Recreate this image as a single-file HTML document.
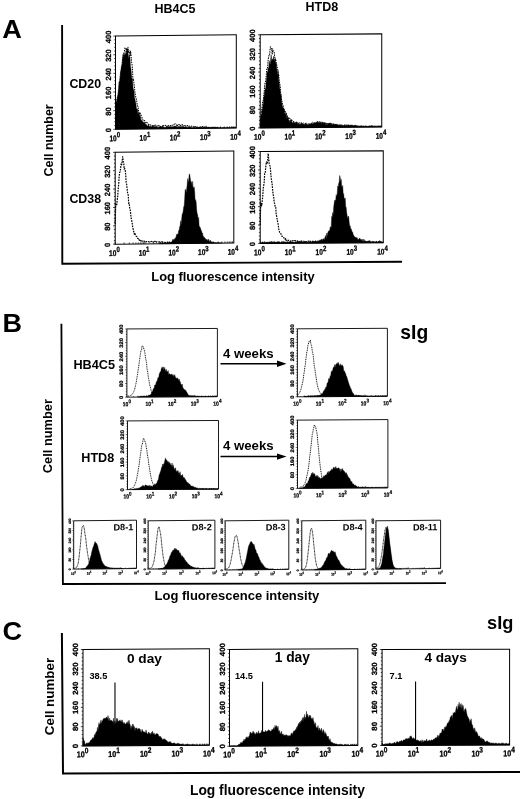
<!DOCTYPE html>
<html><head><meta charset="utf-8"><title>Figure</title>
<style>
html,body{margin:0;padding:0;background:#fff;}
body{width:520px;height:799px;overflow:hidden;font-family:"Liberation Sans",sans-serif;}
svg{display:block;filter:grayscale(1);}
svg text{font-family:"Liberation Sans",sans-serif;}
</style></head><body>
<svg width="520" height="799" viewBox="0 0 520 799" font-family="Liberation Sans, sans-serif" fill="#000">
<rect width="520" height="799" fill="#fff"/>
<text x="2.30" y="38.30" font-size="25" font-weight="bold" text-anchor="start" textLength="19.6" lengthAdjust="spacingAndGlyphs">A</text>
<text x="2.60" y="331.90" font-size="25" font-weight="bold" text-anchor="start" textLength="19.5" lengthAdjust="spacingAndGlyphs">B</text>
<text x="2.40" y="639.50" font-size="25" font-weight="bold" text-anchor="start" textLength="19.6" lengthAdjust="spacingAndGlyphs">C</text>
<path d="M62.1 25L62.3 263.8L402 261.8" fill="none" stroke="#000" stroke-width="1.9"/>
<path d="M61.4 323.8L62.9 584L446 583.2" fill="none" stroke="#000" stroke-width="1.8"/>
<path d="M61.9 633.1L63 773.4L521 771.9" fill="none" stroke="#000" stroke-width="2.0"/>
<text x="154.50" y="12.60" font-size="12.5" font-weight="bold" text-anchor="start" >HB4C5</text>
<text x="305.50" y="11.20" font-size="12.5" font-weight="bold" text-anchor="start" >HTD8</text>
<text x="69.40" y="87.80" font-size="12.4" font-weight="bold" text-anchor="start" >CD20</text>
<text x="69.40" y="202.80" font-size="12.4" font-weight="bold" text-anchor="start" >CD38</text>
<text x="53.40" y="176.50" font-size="12.5" font-weight="bold" text-anchor="start" transform="rotate(-90 53.40 176.50)" >Cell number</text>
<text x="151.30" y="280.60" font-size="12.9" font-weight="bold" text-anchor="start" >Log fluorescence intensity</text>
<g transform="translate(175.90 82.00) skewY(-0.664) translate(-175.90 -82.00)">
<rect x="115.50" y="35.40" width="120.80" height="93.20" fill="none" stroke="#000" stroke-width="1.0"/>
<path d="M115.50 128.60h-2.20M115.50 124.87h-1.30M115.50 121.14h-1.30M115.50 117.42h-1.30M115.50 113.69h-1.30M115.50 109.96h-2.20M115.50 106.23h-1.30M115.50 102.50h-1.30M115.50 98.78h-1.30M115.50 95.05h-1.30M115.50 91.32h-2.20M115.50 87.59h-1.30M115.50 83.86h-1.30M115.50 80.14h-1.30M115.50 76.41h-1.30M115.50 72.68h-2.20M115.50 68.95h-1.30M115.50 65.22h-1.30M115.50 61.50h-1.30M115.50 57.77h-1.30M115.50 54.04h-2.20M115.50 50.31h-1.30M115.50 46.58h-1.30M115.50 42.86h-1.30M115.50 39.13h-1.30M115.50 35.40h-2.20M115.50 128.60v-2.56M124.59 128.60v-1.60M129.91 128.60v-1.60M133.68 128.60v-1.60M136.61 128.60v-1.60M139.00 128.60v-1.60M141.02 128.60v-1.60M142.77 128.60v-1.60M144.32 128.60v-1.60M145.70 128.60v-2.56M154.79 128.60v-1.60M160.11 128.60v-1.60M163.88 128.60v-1.60M166.81 128.60v-1.60M169.20 128.60v-1.60M171.22 128.60v-1.60M172.97 128.60v-1.60M174.52 128.60v-1.60M175.90 128.60v-2.56M184.99 128.60v-1.60M190.31 128.60v-1.60M194.08 128.60v-1.60M197.01 128.60v-1.60M199.40 128.60v-1.60M201.42 128.60v-1.60M203.17 128.60v-1.60M204.72 128.60v-1.60M206.10 128.60v-2.56M215.19 128.60v-1.60M220.51 128.60v-1.60M224.28 128.60v-1.60M227.21 128.60v-1.60M229.60 128.60v-1.60M231.62 128.60v-1.60M233.37 128.60v-1.60M234.92 128.60v-1.60" stroke="#000" stroke-width="0.7" fill="none"/>
<text font-size="7.5" font-weight="bold" stroke="#000" stroke-width="0.26" text-anchor="middle" transform="translate(110.60 129.40) rotate(-90) scale(1.0 1)">0</text>
<text font-size="7.5" font-weight="bold" stroke="#000" stroke-width="0.26" text-anchor="middle" transform="translate(110.60 110.76) rotate(-90) scale(1.0 1)">80</text>
<text font-size="7.5" font-weight="bold" stroke="#000" stroke-width="0.26" text-anchor="middle" transform="translate(110.60 92.12) rotate(-90) scale(1.0 1)">160</text>
<text font-size="7.5" font-weight="bold" stroke="#000" stroke-width="0.26" text-anchor="middle" transform="translate(110.60 73.48) rotate(-90) scale(1.0 1)">240</text>
<text font-size="7.5" font-weight="bold" stroke="#000" stroke-width="0.26" text-anchor="middle" transform="translate(110.60 54.84) rotate(-90) scale(1.0 1)">320</text>
<text font-size="7.5" font-weight="bold" stroke="#000" stroke-width="0.26" text-anchor="middle" transform="translate(110.60 36.20) rotate(-90) scale(1.0 1)">400</text>
<text font-size="8.2" font-weight="bold" stroke="#000" stroke-width="0.29" transform="translate(109.40 140.40) scale(0.8 1)">10<tspan font-size="7.54" dy="-3.85">0</tspan></text>
<text font-size="8.2" font-weight="bold" stroke="#000" stroke-width="0.29" transform="translate(139.60 140.40) scale(0.8 1)">10<tspan font-size="7.54" dy="-3.85">1</tspan></text>
<text font-size="8.2" font-weight="bold" stroke="#000" stroke-width="0.29" transform="translate(169.80 140.40) scale(0.8 1)">10<tspan font-size="7.54" dy="-3.85">2</tspan></text>
<text font-size="8.2" font-weight="bold" stroke="#000" stroke-width="0.29" transform="translate(200.00 140.40) scale(0.8 1)">10<tspan font-size="7.54" dy="-3.85">3</tspan></text>
<text font-size="8.2" font-weight="bold" stroke="#000" stroke-width="0.29" transform="translate(230.20 140.40) scale(0.8 1)">10<tspan font-size="7.54" dy="-3.85">4</tspan></text>
<path d="M115.50 128.60L115.50 104.27L116.00 102.23L116.50 101.03L117.00 99.59L117.50 95.80L118.00 93.56L118.50 87.69L119.00 81.07L119.50 81.52L120.00 78.14L120.50 71.67L121.00 68.28L121.50 65.24L122.00 64.42L122.50 58.61L123.00 53.63L123.50 57.12L124.00 52.54L124.50 55.51L125.00 52.95L125.50 54.54L126.00 49.85L126.50 53.12L127.00 48.65L127.50 49.19L128.00 50.79L128.50 58.75L129.00 54.37L129.50 55.01L130.00 57.67L130.50 66.38L131.00 68.41L131.50 74.59L132.00 78.73L132.50 78.59L133.00 86.95L133.50 89.10L134.00 90.88L134.50 97.10L135.00 99.13L135.50 101.33L136.00 103.90L136.50 108.44L137.00 108.56L137.50 108.51L138.00 114.01L138.50 111.83L139.00 113.93L139.50 115.99L140.00 113.94L140.50 116.55L141.00 119.81L141.50 119.52L142.00 119.92L142.50 121.33L143.00 121.01L143.50 122.07L144.00 121.83L144.50 121.61L145.00 123.70L145.50 123.40L146.00 124.28L146.50 124.24L147.00 125.50L147.50 125.45L148.00 125.49L148.50 125.04L149.00 125.01L149.50 126.48L150.00 126.23L150.50 125.47L151.00 127.00L151.50 126.20L152.00 126.05L152.50 125.38L153.00 125.74L153.50 126.34L154.00 126.41L154.50 126.40L155.00 125.55L155.50 126.60L156.00 126.59L156.50 126.32L157.00 126.61L157.50 126.70L158.00 127.18L158.50 126.72L159.00 126.97L159.50 126.30L160.00 126.59L160.50 126.93L161.00 126.65L161.50 127.08L162.00 126.45L162.50 126.89L163.00 126.61L163.50 127.42L164.00 126.66L164.50 127.56L165.00 127.70L165.50 126.89L166.00 127.14L166.50 126.63L167.00 125.63L167.50 127.05L168.00 126.93L168.50 126.51L169.00 126.35L169.50 126.65L170.00 126.64L170.50 126.18L171.00 126.24L171.50 126.98L172.00 126.49L172.50 126.41L173.00 126.93L173.50 126.25L174.00 126.79L174.50 125.84L175.00 126.21L175.50 126.25L176.00 126.60L176.50 126.38L177.00 127.37L177.50 126.96L178.00 126.25L178.50 127.52L179.00 126.10L179.50 127.39L180.00 126.22L180.50 127.03L181.00 126.30L181.50 126.64L182.00 127.45L182.50 126.21L183.00 126.17L183.50 126.89L184.00 127.02L184.50 127.00L185.00 127.39L185.50 126.54L186.00 127.28L186.50 127.11L187.00 127.45L187.50 127.42L188.00 127.71L188.50 126.75L189.00 127.34L189.50 126.95L190.00 127.35L190.50 127.65L191.00 127.54L191.50 127.65L192.00 127.45L192.50 127.60L193.00 127.59L193.50 127.98L194.00 127.79L194.50 126.93L195.00 127.76L195.50 127.90L196.00 127.43L196.50 127.07L197.00 128.07L197.50 127.65L198.00 127.80L198.50 128.20L199.00 127.36L199.50 127.63L200.00 127.61L200.50 127.89L201.00 127.51L201.50 127.84L202.00 127.72L202.50 128.05L203.00 128.09L203.50 127.28L204.00 127.88L204.50 127.64L205.00 127.75L205.50 127.89L206.00 127.92L206.50 127.58L207.00 127.88L207.50 127.84L208.00 127.80L208.50 127.47L209.00 127.63L209.50 127.73L210.00 128.02L210.50 128.27L211.00 127.60L211.50 127.61L212.00 127.94L212.50 127.75L213.00 127.69L213.50 127.68L214.00 127.66L214.50 128.05L215.00 127.51L215.50 128.28L216.00 127.70L216.50 127.81L217.00 127.71L217.50 127.44L218.00 127.56L218.50 128.27L219.00 128.42L219.50 127.75L220.00 128.25L220.50 127.98L221.00 127.76L221.50 128.42L222.00 128.55L222.50 127.93L223.00 127.99L223.50 128.07L224.00 128.01L224.50 128.24L225.00 128.41L225.50 128.07L226.00 128.28L226.50 128.46L227.00 127.92L227.50 128.06L228.00 127.95L228.50 128.30L229.00 128.23L229.50 128.31L230.00 128.29L230.50 128.03L231.00 128.27L231.50 128.00L232.00 128.01L232.50 127.61L233.00 128.43L233.50 127.90L234.00 128.13L234.50 128.12L235.00 128.46L235.50 128.23L236.00 127.96L236.00 128.60Z" fill="#000" stroke="#000" stroke-width="0.4" stroke-linejoin="round"/>
<path d="M115.50 104.52L116.00 103.01L116.50 101.59L117.00 97.60L117.50 96.61L118.00 96.71L118.50 91.11L119.00 89.43L119.50 87.93L120.00 79.79L120.50 72.80L121.00 71.35L121.50 69.95L122.00 65.89L122.50 58.23L123.00 56.96L123.50 54.39L124.00 52.21L124.50 50.13L125.00 47.27L125.50 47.28L126.00 48.06L126.50 50.92L127.00 47.70L127.50 50.42L128.00 46.73L128.50 52.02L129.00 50.19L129.50 50.94L130.00 55.18L130.50 50.51L131.00 53.69L131.50 61.28L132.00 63.51L132.50 69.38L133.00 79.49L133.50 78.88L134.00 83.57L134.50 87.31L135.00 92.79L135.50 95.03L136.00 97.98L136.50 98.97L137.00 102.57L137.50 105.47L138.00 106.12L138.50 110.31L139.00 111.64L139.50 114.13L140.00 111.93L140.50 113.56L141.00 114.67L141.50 115.95L142.00 117.46L142.50 118.42L143.00 119.67L143.50 120.35L144.00 120.69L144.50 120.10L145.00 121.11L145.50 121.87L146.00 122.56L146.50 122.95L147.00 122.02L147.50 123.02L148.00 123.63L148.50 124.21L149.00 124.90L149.50 124.61L150.00 124.31L150.50 124.99L151.00 124.98L151.50 125.05L152.00 124.97L152.50 125.81L153.00 125.27L153.50 125.61L154.00 124.92L154.50 125.71L155.00 125.20L155.50 124.87L156.00 125.72L156.50 125.91L157.00 125.65L157.50 125.80L158.00 126.27L158.50 125.76L159.00 125.23L159.50 126.18L160.00 126.23L160.50 126.60L161.00 126.11L161.50 126.68L162.00 126.59L162.50 125.65L163.00 126.45L163.50 125.65L164.00 125.43L164.50 125.88L165.00 125.73L165.50 125.13L166.00 125.95L166.50 126.07L167.00 126.34L167.50 125.74L168.00 125.11L168.50 125.28L169.00 126.03L169.50 125.95L170.00 125.74L170.50 125.32L171.00 125.44L171.50 125.16L172.00 125.03L172.50 125.20L173.00 124.98L173.50 124.77L174.00 124.81L174.50 124.44L175.00 123.67L175.50 124.22L176.00 124.45L176.50 125.33L177.00 124.39L177.50 125.59L178.00 125.40L178.50 124.41L179.00 124.56L179.50 125.03L180.00 125.82L180.50 125.28L181.00 125.50L181.50 124.99L182.00 124.36L182.50 125.33L183.00 125.83L183.50 126.07L184.00 125.68L184.50 125.80L185.00 126.26L185.50 125.81L186.00 126.37L186.50 125.54L187.00 125.61L187.50 125.66L188.00 126.31L188.50 125.99L189.00 126.29L189.50 126.44L190.00 126.47L190.50 126.87L191.00 126.97L191.50 126.23L192.00 126.63L192.50 126.54L193.00 126.34L193.50 127.30L194.00 127.04L194.50 126.78L195.00 126.76L195.50 127.06L196.00 126.68L196.50 126.99L197.00 127.46L197.50 127.43L198.00 126.98L198.50 127.14L199.00 127.84L199.50 127.01L200.00 127.26L200.50 127.10L201.00 127.56L201.50 127.55L202.00 127.78L202.50 126.87L203.00 127.57L203.50 127.15L204.00 127.72L204.50 127.53L205.00 127.99L205.50 127.70L206.00 127.38L206.50 127.93L207.00 127.40L207.50 127.59L208.00 127.92L208.50 127.81L209.00 127.82L209.50 127.74L210.00 127.86L210.50 127.94L211.00 127.84L211.50 128.01L212.00 128.08L212.50 127.83L213.00 127.65L213.50 128.17L214.00 127.86L214.50 128.01L215.00 128.09" fill="none" stroke="#000" stroke-width="1.0" stroke-dasharray="1.5 0.9" stroke-linejoin="round"/>
</g>
<g transform="translate(320.98 80.88) skewY(-0.448) translate(-320.98 -80.88)">
<rect x="260.20" y="34.35" width="121.55" height="93.05" fill="none" stroke="#000" stroke-width="1.0"/>
<path d="M260.20 127.40h-2.20M260.20 123.68h-1.30M260.20 119.96h-1.30M260.20 116.23h-1.30M260.20 112.51h-1.30M260.20 108.79h-2.20M260.20 105.07h-1.30M260.20 101.35h-1.30M260.20 97.62h-1.30M260.20 93.90h-1.30M260.20 90.18h-2.20M260.20 86.46h-1.30M260.20 82.74h-1.30M260.20 79.01h-1.30M260.20 75.29h-1.30M260.20 71.57h-2.20M260.20 67.85h-1.30M260.20 64.13h-1.30M260.20 60.40h-1.30M260.20 56.68h-1.30M260.20 52.96h-2.20M260.20 49.24h-1.30M260.20 45.52h-1.30M260.20 41.79h-1.30M260.20 38.07h-1.30M260.20 34.35h-2.20M260.20 127.40v-2.56M269.35 127.40v-1.60M274.70 127.40v-1.60M278.50 127.40v-1.60M281.44 127.40v-1.60M283.85 127.40v-1.60M285.88 127.40v-1.60M287.64 127.40v-1.60M289.20 127.40v-1.60M290.59 127.40v-2.56M299.74 127.40v-1.60M305.09 127.40v-1.60M308.88 127.40v-1.60M311.83 127.40v-1.60M314.23 127.40v-1.60M316.27 127.40v-1.60M318.03 127.40v-1.60M319.58 127.40v-1.60M320.98 127.40v-2.56M330.12 127.40v-1.60M335.47 127.40v-1.60M339.27 127.40v-1.60M342.21 127.40v-1.60M344.62 127.40v-1.60M346.66 127.40v-1.60M348.42 127.40v-1.60M349.97 127.40v-1.60M351.36 127.40v-2.56M360.51 127.40v-1.60M365.86 127.40v-1.60M369.66 127.40v-1.60M372.60 127.40v-1.60M375.01 127.40v-1.60M377.04 127.40v-1.60M378.81 127.40v-1.60M380.36 127.40v-1.60" stroke="#000" stroke-width="0.7" fill="none"/>
<text font-size="7.5" font-weight="bold" stroke="#000" stroke-width="0.26" text-anchor="middle" transform="translate(255.30 128.20) rotate(-90) scale(1.0 1)">0</text>
<text font-size="7.5" font-weight="bold" stroke="#000" stroke-width="0.26" text-anchor="middle" transform="translate(255.30 109.59) rotate(-90) scale(1.0 1)">80</text>
<text font-size="7.5" font-weight="bold" stroke="#000" stroke-width="0.26" text-anchor="middle" transform="translate(255.30 90.98) rotate(-90) scale(1.0 1)">160</text>
<text font-size="7.5" font-weight="bold" stroke="#000" stroke-width="0.26" text-anchor="middle" transform="translate(255.30 72.37) rotate(-90) scale(1.0 1)">240</text>
<text font-size="7.5" font-weight="bold" stroke="#000" stroke-width="0.26" text-anchor="middle" transform="translate(255.30 53.76) rotate(-90) scale(1.0 1)">320</text>
<text font-size="7.5" font-weight="bold" stroke="#000" stroke-width="0.26" text-anchor="middle" transform="translate(255.30 35.15) rotate(-90) scale(1.0 1)">400</text>
<text font-size="8.2" font-weight="bold" stroke="#000" stroke-width="0.29" transform="translate(254.10 139.20) scale(0.8 1)">10<tspan font-size="7.54" dy="-3.85">0</tspan></text>
<text font-size="8.2" font-weight="bold" stroke="#000" stroke-width="0.29" transform="translate(284.49 139.20) scale(0.8 1)">10<tspan font-size="7.54" dy="-3.85">1</tspan></text>
<text font-size="8.2" font-weight="bold" stroke="#000" stroke-width="0.29" transform="translate(314.88 139.20) scale(0.8 1)">10<tspan font-size="7.54" dy="-3.85">2</tspan></text>
<text font-size="8.2" font-weight="bold" stroke="#000" stroke-width="0.29" transform="translate(345.26 139.20) scale(0.8 1)">10<tspan font-size="7.54" dy="-3.85">3</tspan></text>
<text font-size="8.2" font-weight="bold" stroke="#000" stroke-width="0.29" transform="translate(375.65 139.20) scale(0.8 1)">10<tspan font-size="7.54" dy="-3.85">4</tspan></text>
<path d="M260.20 127.40L260.20 119.53L260.70 118.93L261.20 113.95L261.70 113.71L262.20 108.98L262.70 106.51L263.20 103.83L263.70 97.83L264.20 95.60L264.70 90.58L265.20 88.46L265.70 87.26L266.20 81.44L266.70 77.24L267.20 71.07L267.70 72.24L268.20 66.97L268.70 68.90L269.20 60.34L269.70 63.39L270.20 64.17L270.70 58.45L271.20 54.40L271.70 61.11L272.20 59.43L272.70 58.32L273.20 59.61L273.70 55.70L274.20 59.53L274.70 60.16L275.20 57.85L275.70 63.34L276.20 62.10L276.70 67.85L277.20 70.86L277.70 75.48L278.20 70.07L278.70 79.70L279.20 82.66L279.70 87.42L280.20 90.96L280.70 94.62L281.20 94.16L281.70 101.98L282.20 105.11L282.70 106.45L283.20 109.01L283.70 107.66L284.20 108.99L284.70 112.49L285.20 113.99L285.70 113.59L286.20 112.40L286.70 118.43L287.20 115.47L287.70 118.22L288.20 116.95L288.70 119.95L289.20 119.82L289.70 121.38L290.20 121.14L290.70 119.26L291.20 120.01L291.70 121.31L292.20 121.93L292.70 123.00L293.20 121.99L293.70 121.93L294.20 122.21L294.70 122.45L295.20 123.44L295.70 122.90L296.20 123.11L296.70 122.39L297.20 122.15L297.70 123.58L298.20 124.03L298.70 123.59L299.20 123.98L299.70 124.09L300.20 123.67L300.70 124.35L301.20 123.30L301.70 123.79L302.20 123.59L302.70 123.90L303.20 124.28L303.70 124.45L304.20 124.02L304.70 124.25L305.20 123.78L305.70 123.96L306.20 124.84L306.70 123.98L307.20 124.88L307.70 124.46L308.20 124.28L308.70 125.37L309.20 123.99L309.70 123.87L310.20 123.96L310.70 124.03L311.20 123.90L311.70 124.20L312.20 123.63L312.70 123.73L313.20 123.19L313.70 123.99L314.20 122.88L314.70 122.84L315.20 122.94L315.70 123.06L316.20 122.23L316.70 123.77L317.20 122.09L317.70 122.19L318.20 122.15L318.70 122.11L319.20 122.97L319.70 122.75L320.20 122.16L320.70 122.39L321.20 122.63L321.70 123.95L322.20 122.55L322.70 122.18L323.20 122.38L323.70 123.00L324.20 124.31L324.70 122.67L325.20 123.49L325.70 125.17L326.20 123.30L326.70 124.60L327.20 124.54L327.70 124.19L328.20 123.04L328.70 124.16L329.20 123.84L329.70 123.00L330.20 123.18L330.70 124.27L331.20 124.41L331.70 125.06L332.20 124.78L332.70 124.18L333.20 124.25L333.70 124.47L334.20 124.02L334.70 125.07L335.20 124.72L335.70 124.34L336.20 124.48L336.70 124.27L337.20 124.69L337.70 125.12L338.20 124.82L338.70 125.58L339.20 125.96L339.70 124.88L340.20 125.25L340.70 125.13L341.20 126.16L341.70 125.56L342.20 125.72L342.70 125.90L343.20 126.58L343.70 125.75L344.20 125.26L344.70 125.54L345.20 126.01L345.70 125.79L346.20 125.48L346.70 126.99L347.20 125.89L347.70 125.62L348.20 125.58L348.70 125.18L349.20 125.43L349.70 125.79L350.20 125.81L350.70 125.63L351.20 126.18L351.70 126.00L352.20 125.64L352.70 125.24L353.20 126.09L353.70 126.07L354.20 125.99L354.70 125.56L355.20 126.11L355.70 125.55L356.20 126.50L356.70 126.22L357.20 126.24L357.70 125.89L358.20 125.81L358.70 126.77L359.20 126.56L359.70 126.12L360.20 126.50L360.70 126.82L361.20 125.93L361.70 126.14L362.20 126.15L362.70 126.51L363.20 126.01L363.70 126.46L364.20 126.02L364.70 126.72L365.20 126.71L365.70 126.37L366.20 126.69L366.70 126.25L367.20 126.39L367.70 126.78L368.20 126.47L368.70 126.61L369.20 126.22L369.70 126.72L370.20 126.66L370.70 126.15L371.20 125.84L371.70 125.93L372.20 126.54L372.70 126.50L373.20 126.10L373.70 126.62L374.20 126.88L374.70 126.56L375.20 126.47L375.70 126.86L376.20 127.11L376.70 127.05L377.20 126.44L377.70 126.86L378.20 126.69L378.70 126.59L379.20 126.48L379.70 126.77L380.20 126.54L380.70 126.94L381.20 126.80L381.70 126.99L381.70 127.40Z" fill="#000" stroke="#000" stroke-width="0.4" stroke-linejoin="round"/>
<path d="M260.20 119.41L260.70 117.34L261.20 114.00L261.70 109.69L262.20 105.73L262.70 100.91L263.20 100.18L263.70 95.95L264.20 91.59L264.70 83.77L265.20 82.63L265.70 80.63L266.20 75.31L266.70 68.83L267.20 69.02L267.70 65.49L268.20 58.71L268.70 56.77L269.20 53.68L269.70 54.00L270.20 47.14L270.70 46.47L271.20 48.50L271.70 48.25L272.20 54.01L272.70 48.37L273.20 50.69L273.70 50.60L274.20 51.96L274.70 56.05L275.20 60.76L275.70 58.69L276.20 63.00L276.70 64.34L277.20 67.00L277.70 69.19L278.20 76.19L278.70 74.22L279.20 80.25L279.70 83.13L280.20 85.99L280.70 92.77L281.20 98.50L281.70 99.88L282.20 102.56L282.70 104.00L283.20 105.65L283.70 109.97L284.20 109.06L284.70 112.01L285.20 111.16L285.70 112.49L286.20 113.61L286.70 114.32L287.20 115.65L287.70 116.63L288.20 118.37L288.70 118.02L289.20 117.49L289.70 117.99L290.20 118.78L290.70 119.44L291.20 120.59L291.70 119.48L292.20 120.68L292.70 120.93L293.20 121.31L293.70 121.32L294.20 121.88L294.70 121.92L295.20 122.71L295.70 122.56L296.20 121.40L296.70 122.86L297.20 123.09L297.70 122.77L298.20 122.72L298.70 123.67L299.20 123.26L299.70 122.74L300.20 123.10L300.70 123.21L301.20 122.55L301.70 123.68L302.20 123.35L302.70 123.68L303.20 122.76L303.70 124.44L304.20 123.87L304.70 123.84L305.20 123.32L305.70 123.38L306.20 123.06L306.70 124.47L307.20 123.44L307.70 123.96L308.20 124.16L308.70 123.62L309.20 124.23L309.70 124.67L310.20 123.77L310.70 124.19L311.20 123.68L311.70 123.07L312.20 122.98L312.70 122.22L313.20 123.01L313.70 123.58L314.20 123.07L314.70 123.05L315.20 123.10L315.70 122.09L316.20 122.57L316.70 123.20L317.20 121.60L317.70 121.97L318.20 121.69L318.70 121.89L319.20 121.68L319.70 122.10L320.20 121.53L320.70 122.06L321.20 122.17L321.70 122.25L322.20 123.32L322.70 122.72L323.20 122.86L323.70 122.70L324.20 123.59L324.70 122.15L325.20 123.02L325.70 123.76L326.20 124.08L326.70 123.46L327.20 123.46L327.70 123.84L328.20 123.54L328.70 123.97L329.20 123.50L329.70 124.17L330.20 123.93L330.70 123.54L331.20 122.89L331.70 124.53L332.20 124.34L332.70 124.55L333.20 123.91L333.70 124.79L334.20 124.55L334.70 124.42L335.20 124.86L335.70 124.90L336.20 124.76L336.70 125.46L337.20 125.25L337.70 124.89L338.20 124.72L338.70 124.91L339.20 125.57L339.70 125.12L340.20 124.70L340.70 124.84L341.20 125.13L341.70 125.48L342.20 124.98L342.70 125.47L343.20 125.72L343.70 125.64L344.20 124.93L344.70 125.40L345.20 125.14L345.70 125.72L346.20 125.29L346.70 125.81L347.20 125.70L347.70 124.89L348.20 125.47L348.70 125.89L349.20 125.79L349.70 125.69L350.20 125.45L350.70 126.00L351.20 126.40L351.70 125.99L352.20 125.93L352.70 125.93L353.20 125.62L353.70 125.93L354.20 125.82L354.70 126.38L355.20 125.87L355.70 125.57L356.20 125.96L356.70 126.13L357.20 126.18" fill="none" stroke="#000" stroke-width="1.0" stroke-dasharray="1.5 0.9" stroke-linejoin="round"/>
</g>
<g transform="translate(174.50 197.62) skewY(-0.604) translate(-174.50 -197.62)">
<rect x="115.20" y="151.70" width="118.60" height="91.85" fill="none" stroke="#000" stroke-width="1.0"/>
<path d="M115.20 243.55h-2.20M115.20 239.88h-1.30M115.20 236.20h-1.30M115.20 232.53h-1.30M115.20 228.85h-1.30M115.20 225.18h-2.20M115.20 221.51h-1.30M115.20 217.83h-1.30M115.20 214.16h-1.30M115.20 210.48h-1.30M115.20 206.81h-2.20M115.20 203.14h-1.30M115.20 199.46h-1.30M115.20 195.79h-1.30M115.20 192.11h-1.30M115.20 188.44h-2.20M115.20 184.77h-1.30M115.20 181.09h-1.30M115.20 177.42h-1.30M115.20 173.74h-1.30M115.20 170.07h-2.20M115.20 166.40h-1.30M115.20 162.72h-1.30M115.20 159.05h-1.30M115.20 155.37h-1.30M115.20 151.70h-2.20M115.20 243.55v-2.56M124.13 243.55v-1.60M129.35 243.55v-1.60M133.05 243.55v-1.60M135.92 243.55v-1.60M138.27 243.55v-1.60M140.26 243.55v-1.60M141.98 243.55v-1.60M143.49 243.55v-1.60M144.85 243.55v-2.56M153.78 243.55v-1.60M159.00 243.55v-1.60M162.70 243.55v-1.60M165.57 243.55v-1.60M167.92 243.55v-1.60M169.91 243.55v-1.60M171.63 243.55v-1.60M173.14 243.55v-1.60M174.50 243.55v-2.56M183.43 243.55v-1.60M188.65 243.55v-1.60M192.35 243.55v-1.60M195.22 243.55v-1.60M197.57 243.55v-1.60M199.56 243.55v-1.60M201.28 243.55v-1.60M202.79 243.55v-1.60M204.15 243.55v-2.56M213.08 243.55v-1.60M218.30 243.55v-1.60M222.00 243.55v-1.60M224.87 243.55v-1.60M227.22 243.55v-1.60M229.21 243.55v-1.60M230.93 243.55v-1.60M232.44 243.55v-1.60" stroke="#000" stroke-width="0.7" fill="none"/>
<text font-size="7.5" font-weight="bold" stroke="#000" stroke-width="0.26" text-anchor="middle" transform="translate(110.30 244.35) rotate(-90) scale(1.0 1)">0</text>
<text font-size="7.5" font-weight="bold" stroke="#000" stroke-width="0.26" text-anchor="middle" transform="translate(110.30 225.98) rotate(-90) scale(1.0 1)">80</text>
<text font-size="7.5" font-weight="bold" stroke="#000" stroke-width="0.26" text-anchor="middle" transform="translate(110.30 207.61) rotate(-90) scale(1.0 1)">160</text>
<text font-size="7.5" font-weight="bold" stroke="#000" stroke-width="0.26" text-anchor="middle" transform="translate(110.30 189.24) rotate(-90) scale(1.0 1)">240</text>
<text font-size="7.5" font-weight="bold" stroke="#000" stroke-width="0.26" text-anchor="middle" transform="translate(110.30 170.87) rotate(-90) scale(1.0 1)">320</text>
<text font-size="7.5" font-weight="bold" stroke="#000" stroke-width="0.26" text-anchor="middle" transform="translate(110.30 152.50) rotate(-90) scale(1.0 1)">400</text>
<text font-size="8.2" font-weight="bold" stroke="#000" stroke-width="0.29" transform="translate(109.10 255.35) scale(0.8 1)">10<tspan font-size="7.54" dy="-3.85">0</tspan></text>
<text font-size="8.2" font-weight="bold" stroke="#000" stroke-width="0.29" transform="translate(138.75 255.35) scale(0.8 1)">10<tspan font-size="7.54" dy="-3.85">1</tspan></text>
<text font-size="8.2" font-weight="bold" stroke="#000" stroke-width="0.29" transform="translate(168.40 255.35) scale(0.8 1)">10<tspan font-size="7.54" dy="-3.85">2</tspan></text>
<text font-size="8.2" font-weight="bold" stroke="#000" stroke-width="0.29" transform="translate(198.05 255.35) scale(0.8 1)">10<tspan font-size="7.54" dy="-3.85">3</tspan></text>
<text font-size="8.2" font-weight="bold" stroke="#000" stroke-width="0.29" transform="translate(227.70 255.35) scale(0.8 1)">10<tspan font-size="7.54" dy="-3.85">4</tspan></text>
<path d="M115.20 223.27L115.70 203.28L116.20 204.54L116.70 204.37L117.20 199.71L117.70 195.88L118.20 188.63L118.70 183.16L119.20 175.76L119.70 171.56L120.20 171.26L120.70 166.80L121.20 162.73L121.70 164.37L122.20 160.34L122.70 156.17L123.20 161.06L123.70 162.11L124.20 168.66L124.70 168.03L125.20 169.59L125.70 174.03L126.20 182.11L126.70 184.11L127.20 189.08L127.70 192.99L128.20 194.51L128.70 202.92L129.20 202.72L129.70 207.58L130.20 208.79L130.70 213.69L131.20 218.00L131.70 220.11L132.20 222.91L132.70 226.89L133.20 228.84L133.70 231.08L134.20 233.62L134.70 232.42L135.20 233.86L135.70 235.33L136.20 236.01L136.70 235.89L137.20 237.33L137.70 237.96L138.20 238.15L138.70 237.90L139.20 239.75L139.70 238.93L140.20 240.07L140.70 240.43L141.20 239.53L141.70 240.29L142.20 240.96L142.70 240.72L143.20 240.35L143.70 240.42L144.20 241.21L144.70 241.05L145.20 241.01L145.70 241.53L146.20 241.20L146.70 241.36L147.20 241.56L147.70 241.57L148.20 241.40L148.70 241.44L149.20 241.67L149.70 241.65L150.20 241.15L150.70 241.48L151.20 241.28L151.70 241.21L152.20 241.44L152.70 240.91L153.20 241.95L153.70 241.45L154.20 241.83L154.70 241.14L155.20 241.20L155.70 242.39L156.20 242.09L156.70 241.58L157.20 241.55L157.70 241.58L158.20 241.85L158.70 241.70L159.20 241.65L159.70 241.89L160.20 241.56L160.70 242.59L161.20 241.71L161.70 242.23L162.20 241.64L162.70 242.02L163.20 242.25L163.70 241.91L164.20 242.33L164.70 242.37L165.20 242.59L165.70 242.19L166.20 242.08L166.70 241.98L167.20 242.33L167.70 242.06L168.20 242.37L168.70 242.44L169.20 242.31L169.70 242.23L170.20 242.61L170.70 242.62L171.20 242.64L171.70 242.63L172.20 242.88L172.70 242.50L173.20 242.85L173.70 242.70L174.20 243.00" fill="none" stroke="#000" stroke-width="1.2" stroke-dasharray="1.7 1.0" stroke-linejoin="round"/>
<path d="M159.67 243.55L159.67 243.30L160.17 243.26L160.67 243.38L161.17 242.86L161.67 243.15L162.17 242.78L162.67 242.91L163.17 243.26L163.67 243.14L164.17 242.85L164.67 242.89L165.17 242.81L165.67 242.85L166.17 243.31L166.67 242.65L167.17 243.34L167.67 242.18L168.17 242.53L168.67 242.41L169.17 242.03L169.67 241.62L170.17 242.35L170.67 242.37L171.17 241.80L171.67 242.20L172.17 241.30L172.67 239.29L173.17 240.81L173.67 239.19L174.17 240.35L174.67 238.54L175.17 238.52L175.67 237.67L176.17 236.33L176.67 234.23L177.17 234.90L177.67 233.88L178.17 234.01L178.67 230.59L179.17 230.12L179.67 226.71L180.17 226.03L180.67 220.76L181.17 224.88L181.67 219.21L182.17 214.01L182.67 213.51L183.17 211.34L183.67 206.89L184.17 206.25L184.67 199.16L185.17 189.63L185.67 189.65L186.17 192.75L186.67 189.21L187.17 185.23L187.67 178.69L188.17 182.31L188.67 180.44L189.17 174.54L189.67 174.08L190.17 177.96L190.67 180.78L191.17 183.06L191.67 181.83L192.17 188.26L192.67 181.53L193.17 188.13L193.67 187.77L194.17 187.03L194.67 192.24L195.17 201.61L195.67 199.84L196.17 202.56L196.67 210.25L197.17 213.78L197.67 214.97L198.17 220.73L198.67 217.56L199.17 226.96L199.67 226.86L200.17 227.52L200.67 229.30L201.17 230.42L201.67 231.78L202.17 233.71L202.67 233.31L203.17 237.94L203.67 236.52L204.17 237.99L204.67 237.86L205.17 238.38L205.67 239.83L206.17 240.03L206.67 239.36L207.17 240.05L207.67 241.05L208.17 239.61L208.67 239.76L209.17 242.19L209.67 241.40L210.17 240.45L210.67 241.53L211.17 241.96L211.67 242.30L212.17 242.56L212.67 242.54L213.17 242.77L213.67 242.39L214.17 242.88L214.67 242.97L215.17 243.28L215.67 242.99L216.17 243.28L216.67 243.14L217.17 242.89L217.67 243.11L218.17 243.12L218.67 243.20L219.17 243.29L219.67 243.36L220.17 243.41L220.67 243.27L221.17 243.55L221.67 243.24L221.67 243.55Z" fill="#000" stroke="#000" stroke-width="0.4" stroke-linejoin="round"/>
</g>
<g transform="translate(321.73 197.12) skewY(-0.303) translate(-321.73 -197.12)">
<rect x="260.20" y="151.20" width="123.05" height="91.85" fill="none" stroke="#000" stroke-width="1.0"/>
<path d="M260.20 243.05h-2.20M260.20 239.38h-1.30M260.20 235.70h-1.30M260.20 232.03h-1.30M260.20 228.35h-1.30M260.20 224.68h-2.20M260.20 221.01h-1.30M260.20 217.33h-1.30M260.20 213.66h-1.30M260.20 209.98h-1.30M260.20 206.31h-2.20M260.20 202.64h-1.30M260.20 198.96h-1.30M260.20 195.29h-1.30M260.20 191.61h-1.30M260.20 187.94h-2.20M260.20 184.27h-1.30M260.20 180.59h-1.30M260.20 176.92h-1.30M260.20 173.24h-1.30M260.20 169.57h-2.20M260.20 165.90h-1.30M260.20 162.22h-1.30M260.20 158.55h-1.30M260.20 154.87h-1.30M260.20 151.20h-2.20M260.20 243.05v-2.56M269.46 243.05v-1.60M274.88 243.05v-1.60M278.72 243.05v-1.60M281.70 243.05v-1.60M284.14 243.05v-1.60M286.20 243.05v-1.60M287.98 243.05v-1.60M289.55 243.05v-1.60M290.96 243.05v-2.56M300.22 243.05v-1.60M305.64 243.05v-1.60M309.48 243.05v-1.60M312.46 243.05v-1.60M314.90 243.05v-1.60M316.96 243.05v-1.60M318.74 243.05v-1.60M320.32 243.05v-1.60M321.73 243.05v-2.56M330.99 243.05v-1.60M336.40 243.05v-1.60M340.25 243.05v-1.60M343.23 243.05v-1.60M345.66 243.05v-1.60M347.72 243.05v-1.60M349.51 243.05v-1.60M351.08 243.05v-1.60M352.49 243.05v-2.56M361.75 243.05v-1.60M367.16 243.05v-1.60M371.01 243.05v-1.60M373.99 243.05v-1.60M376.43 243.05v-1.60M378.48 243.05v-1.60M380.27 243.05v-1.60M381.84 243.05v-1.60" stroke="#000" stroke-width="0.7" fill="none"/>
<text font-size="7.5" font-weight="bold" stroke="#000" stroke-width="0.26" text-anchor="middle" transform="translate(255.30 243.85) rotate(-90) scale(1.0 1)">0</text>
<text font-size="7.5" font-weight="bold" stroke="#000" stroke-width="0.26" text-anchor="middle" transform="translate(255.30 225.48) rotate(-90) scale(1.0 1)">80</text>
<text font-size="7.5" font-weight="bold" stroke="#000" stroke-width="0.26" text-anchor="middle" transform="translate(255.30 207.11) rotate(-90) scale(1.0 1)">160</text>
<text font-size="7.5" font-weight="bold" stroke="#000" stroke-width="0.26" text-anchor="middle" transform="translate(255.30 188.74) rotate(-90) scale(1.0 1)">240</text>
<text font-size="7.5" font-weight="bold" stroke="#000" stroke-width="0.26" text-anchor="middle" transform="translate(255.30 170.37) rotate(-90) scale(1.0 1)">320</text>
<text font-size="7.5" font-weight="bold" stroke="#000" stroke-width="0.26" text-anchor="middle" transform="translate(255.30 152.00) rotate(-90) scale(1.0 1)">400</text>
<text font-size="8.2" font-weight="bold" stroke="#000" stroke-width="0.29" transform="translate(254.10 254.85) scale(0.8 1)">10<tspan font-size="7.54" dy="-3.85">0</tspan></text>
<text font-size="8.2" font-weight="bold" stroke="#000" stroke-width="0.29" transform="translate(284.86 254.85) scale(0.8 1)">10<tspan font-size="7.54" dy="-3.85">1</tspan></text>
<text font-size="8.2" font-weight="bold" stroke="#000" stroke-width="0.29" transform="translate(315.62 254.85) scale(0.8 1)">10<tspan font-size="7.54" dy="-3.85">2</tspan></text>
<text font-size="8.2" font-weight="bold" stroke="#000" stroke-width="0.29" transform="translate(346.39 254.85) scale(0.8 1)">10<tspan font-size="7.54" dy="-3.85">3</tspan></text>
<text font-size="8.2" font-weight="bold" stroke="#000" stroke-width="0.29" transform="translate(377.15 254.85) scale(0.8 1)">10<tspan font-size="7.54" dy="-3.85">4</tspan></text>
<path d="M260.20 224.57L260.70 202.42L261.20 204.43L261.70 205.71L262.20 200.96L262.70 196.87L263.20 188.03L263.70 185.28L264.20 181.78L264.70 173.50L265.20 173.31L265.70 167.19L266.20 162.80L266.70 161.50L267.20 163.47L267.70 159.86L268.20 153.15L268.70 158.89L269.20 163.37L269.70 164.96L270.20 165.94L270.70 172.04L271.20 177.95L271.70 181.16L272.20 184.34L272.70 190.24L273.20 194.69L273.70 196.54L274.20 201.79L274.70 203.74L275.20 206.60L275.70 206.60L276.20 214.05L276.70 216.19L277.20 219.38L277.70 221.85L278.20 224.42L278.70 228.57L279.20 230.38L279.70 232.23L280.20 232.80L280.70 232.86L281.20 234.40L281.70 235.94L282.20 236.00L282.70 236.22L283.20 236.41L283.70 237.54L284.20 237.81L284.70 239.12L285.20 239.21L285.70 238.28L286.20 240.31L286.70 239.60L287.20 239.50L287.70 239.91L288.20 240.25L288.70 240.08L289.20 240.21L289.70 240.40L290.20 241.24L290.70 240.72L291.20 241.07L291.70 240.99L292.20 240.73L292.70 240.61L293.20 240.55L293.70 241.06L294.20 240.59L294.70 240.53L295.20 240.57L295.70 240.51L296.20 241.06L296.70 241.10L297.20 240.79L297.70 241.55L298.20 241.04L298.70 241.31L299.20 241.29L299.70 241.76L300.20 241.50L300.70 241.23L301.20 240.95L301.70 240.93L302.20 241.29L302.70 241.34L303.20 241.55L303.70 241.17L304.20 241.39L304.70 241.13L305.20 240.79L305.70 241.36L306.20 241.83L306.70 241.64L307.20 241.84L307.70 241.77L308.20 241.01L308.70 241.36L309.20 241.90L309.70 241.27L310.20 241.12L310.70 241.64L311.20 241.77L311.70 241.71L312.20 241.57L312.70 241.51L313.20 241.40L313.70 241.43L314.20 241.48L314.70 241.48L315.20 241.70L315.70 242.30L316.20 241.98L316.70 241.91L317.20 242.12L317.70 241.84L318.20 242.18L318.70 242.35L319.20 241.85L319.70 242.06L320.20 242.20L320.70 242.09L321.20 242.10L321.70 242.28" fill="none" stroke="#000" stroke-width="1.2" stroke-dasharray="1.7 1.0" stroke-linejoin="round"/>
<path d="M260.20 243.05L260.20 242.91L260.70 242.18L261.20 242.09L261.70 242.31L262.20 241.82L262.70 241.41L263.20 242.10L263.70 242.37L264.20 241.07L264.70 242.09L265.20 242.41L265.70 241.80L266.20 241.73L266.70 242.19L267.20 241.58L267.70 242.10L268.20 242.28L268.70 241.83L269.20 241.59L269.70 242.16L270.20 241.77L270.70 241.94L271.20 240.74L271.70 242.19L272.20 241.33L272.70 241.92L273.20 241.95L273.70 241.61L274.20 241.53L274.70 241.38L275.20 241.77L275.70 242.15L276.20 242.12L276.70 241.69L277.20 241.66L277.70 241.33L278.20 241.73L278.70 241.47L279.20 241.28L279.70 241.83L280.20 242.51L280.70 242.39L281.20 242.49L281.70 241.25L282.20 242.25L282.70 241.40L283.20 241.66L283.70 241.20L284.20 241.49L284.70 241.94L285.20 241.98L285.70 241.87L286.20 241.83L286.70 242.12L287.20 241.92L287.70 241.24L288.20 242.60L288.70 241.80L289.20 242.27L289.70 241.82L290.20 241.56L290.70 241.93L291.20 241.58L291.70 242.55L292.20 241.45L292.70 242.15L293.20 241.65L293.70 241.83L294.20 242.96L294.70 242.21L295.20 241.81L295.70 241.26L296.20 241.78L296.70 241.79L297.20 242.48L297.70 241.31L298.20 241.16L298.70 241.89L299.20 241.99L299.70 242.56L300.20 241.53L300.70 240.78L301.20 241.60L301.70 241.37L302.20 241.66L302.70 242.29L303.20 241.33L303.70 242.39L304.20 241.96L304.70 241.75L305.20 241.50L305.70 241.69L306.20 241.69L306.70 242.16L307.20 242.38L307.70 241.80L308.20 242.11L308.70 242.36L309.20 242.32L309.70 241.97L310.20 242.55L310.70 242.31L311.20 242.42L311.70 241.57L312.20 241.43L312.70 240.64L313.20 242.24L313.70 241.81L314.20 240.99L314.70 241.48L315.20 241.47L315.70 240.35L316.20 241.33L316.70 241.69L317.20 241.69L317.70 240.67L318.20 240.56L318.70 241.44L319.20 241.08L319.70 239.99L320.20 239.79L320.70 240.42L321.20 239.37L321.70 239.19L322.20 240.68L322.70 239.36L323.20 238.52L323.70 239.01L324.20 240.01L324.70 238.08L325.20 236.72L325.70 235.42L326.20 238.54L326.70 233.02L327.20 236.23L327.70 233.07L328.20 231.71L328.70 230.84L329.20 230.61L329.70 231.00L330.20 226.76L330.70 226.98L331.20 228.01L331.70 216.43L332.20 217.62L332.70 212.62L333.20 215.23L333.70 207.03L334.20 203.42L334.70 200.08L335.20 200.60L335.70 200.44L336.20 194.70L336.70 197.38L337.20 193.46L337.70 186.06L338.20 187.29L338.70 183.37L339.20 182.20L339.70 175.56L340.20 177.49L340.70 182.02L341.20 179.23L341.70 186.49L342.20 186.94L342.70 185.50L343.20 193.95L343.70 193.91L344.20 199.47L344.70 198.66L345.20 197.98L345.70 206.80L346.20 207.51L346.70 212.90L347.20 216.13L347.70 218.85L348.20 216.16L348.70 216.97L349.20 222.50L349.70 226.41L350.20 225.91L350.70 229.05L351.20 228.84L351.70 230.81L352.20 231.93L352.70 232.52L353.20 234.76L353.70 235.29L354.20 237.32L354.70 236.54L355.20 237.99L355.70 237.21L356.20 238.36L356.70 237.78L357.20 237.83L357.70 239.68L358.20 239.45L358.70 239.79L359.20 238.76L359.70 238.31L360.20 239.15L360.70 240.17L361.20 239.15L361.70 241.24L362.20 239.49L362.70 240.96L363.20 242.33L363.70 239.29L364.20 240.04L364.70 241.59L365.20 241.03L365.70 241.31L366.20 241.22L366.70 242.09L367.20 241.74L367.70 241.24L368.20 241.41L368.70 241.00L369.20 241.57L369.70 240.57L370.20 241.99L370.70 241.59L371.20 242.57L371.70 242.30L372.20 241.19L372.70 242.19L373.20 241.58L373.70 241.84L374.20 242.27L374.70 241.99L375.20 242.06L375.70 242.06L376.20 241.55L376.70 241.60L377.20 242.11L377.70 242.25L378.20 241.76L378.70 241.93L379.20 241.46L379.70 240.79L380.20 241.54L380.70 241.91L381.20 241.97L381.70 242.25L382.20 242.27L382.70 242.31L383.20 242.06L383.20 243.05Z" fill="#000" stroke="#000" stroke-width="0.4" stroke-linejoin="round"/>
</g>
<text x="73.40" y="369.30" font-size="12.7" font-weight="bold" text-anchor="start" >HB4C5</text>
<text x="81.30" y="461.80" font-size="12.6" font-weight="bold" text-anchor="start" >HTD8</text>
<text x="52.20" y="473.20" font-size="12.85" font-weight="bold" text-anchor="start" transform="rotate(-90 52.20 473.20)" >Cell number</text>
<text x="154.50" y="600.20" font-size="13" font-weight="bold" text-anchor="start" >Log fluorescence intensity</text>
<text x="400.30" y="338.80" font-size="19.3" font-weight="bold" text-anchor="start" >sIg</text>
<text x="223.00" y="357.80" font-size="13.2" font-weight="bold" text-anchor="start" >4 weeks</text>
<text x="223.00" y="450.40" font-size="13.2" font-weight="bold" text-anchor="start" >4 weeks</text>
<path d="M220.5 363.8L280.5 363.8" stroke="#000" stroke-width="1.5"/>
<path d="M286.5 363.8L277.0 360.6L277.0 367.0Z" fill="#000"/>
<path d="M220.5 456.6L280.5 456.6" stroke="#000" stroke-width="1.5"/>
<path d="M286.5 456.6L277.0 453.40000000000003L277.0 459.8Z" fill="#000"/>
<g transform="translate(172.15 362.80) skewY(-0.317) translate(-172.15 -362.80)">
<rect x="126.90" y="328.70" width="90.50" height="68.20" fill="none" stroke="#000" stroke-width="0.9"/>
<path d="M126.90 396.90h-1.80M126.90 394.17h-1.10M126.90 391.44h-1.10M126.90 388.72h-1.10M126.90 385.99h-1.10M126.90 383.26h-1.80M126.90 380.53h-1.10M126.90 377.80h-1.10M126.90 375.08h-1.10M126.90 372.35h-1.10M126.90 369.62h-1.80M126.90 366.89h-1.10M126.90 364.16h-1.10M126.90 361.44h-1.10M126.90 358.71h-1.10M126.90 355.98h-1.80M126.90 353.25h-1.10M126.90 350.52h-1.10M126.90 347.80h-1.10M126.90 345.07h-1.10M126.90 342.34h-1.80M126.90 339.61h-1.10M126.90 336.88h-1.10M126.90 334.16h-1.10M126.90 331.43h-1.10M126.90 328.70h-1.80M126.90 396.90v-1.92M133.71 396.90v-1.20M137.69 396.90v-1.20M140.52 396.90v-1.20M142.71 396.90v-1.20M144.51 396.90v-1.20M146.02 396.90v-1.20M147.33 396.90v-1.20M148.49 396.90v-1.20M149.53 396.90v-1.92M156.34 396.90v-1.20M160.32 396.90v-1.20M163.15 396.90v-1.20M165.34 396.90v-1.20M167.13 396.90v-1.20M168.65 396.90v-1.20M169.96 396.90v-1.20M171.11 396.90v-1.20M172.15 396.90v-1.92M178.96 396.90v-1.20M182.94 396.90v-1.20M185.77 396.90v-1.20M187.96 396.90v-1.20M189.76 396.90v-1.20M191.27 396.90v-1.20M192.58 396.90v-1.20M193.74 396.90v-1.20M194.78 396.90v-1.92M201.59 396.90v-1.20M205.57 396.90v-1.20M208.40 396.90v-1.20M210.59 396.90v-1.20M212.38 396.90v-1.20M213.90 396.90v-1.20M215.21 396.90v-1.20M216.36 396.90v-1.20" stroke="#000" stroke-width="0.6" fill="none"/>
<text font-size="5.2" font-weight="bold" stroke="#000" stroke-width="0.22" text-anchor="middle" transform="translate(123.00 397.20) rotate(-90) scale(1.12 1)">0</text>
<text font-size="5.2" font-weight="bold" stroke="#000" stroke-width="0.22" text-anchor="middle" transform="translate(123.00 383.56) rotate(-90) scale(1.12 1)">80</text>
<text font-size="5.2" font-weight="bold" stroke="#000" stroke-width="0.22" text-anchor="middle" transform="translate(123.00 369.92) rotate(-90) scale(1.12 1)">160</text>
<text font-size="5.2" font-weight="bold" stroke="#000" stroke-width="0.22" text-anchor="middle" transform="translate(123.00 356.28) rotate(-90) scale(1.12 1)">240</text>
<text font-size="5.2" font-weight="bold" stroke="#000" stroke-width="0.22" text-anchor="middle" transform="translate(123.00 342.64) rotate(-90) scale(1.12 1)">320</text>
<text font-size="5.2" font-weight="bold" stroke="#000" stroke-width="0.22" text-anchor="middle" transform="translate(123.00 329.00) rotate(-90) scale(1.12 1)">400</text>
<text font-size="6.0" font-weight="bold" stroke="#000" stroke-width="0.22" transform="translate(122.80 405.90) scale(0.84 1)">10<tspan font-size="5.52" dy="-2.82">0</tspan></text>
<text font-size="6.0" font-weight="bold" stroke="#000" stroke-width="0.22" transform="translate(145.43 405.90) scale(0.84 1)">10<tspan font-size="5.52" dy="-2.82">1</tspan></text>
<text font-size="6.0" font-weight="bold" stroke="#000" stroke-width="0.22" transform="translate(168.05 405.90) scale(0.84 1)">10<tspan font-size="5.52" dy="-2.82">2</tspan></text>
<text font-size="6.0" font-weight="bold" stroke="#000" stroke-width="0.22" transform="translate(190.68 405.90) scale(0.84 1)">10<tspan font-size="5.52" dy="-2.82">3</tspan></text>
<text font-size="6.0" font-weight="bold" stroke="#000" stroke-width="0.22" transform="translate(213.30 405.90) scale(0.84 1)">10<tspan font-size="5.52" dy="-2.82">4</tspan></text>
<path d="M128.03 396.02L128.53 395.86L129.03 395.92L129.53 395.81L130.03 395.81L130.53 395.29L131.03 395.19L131.53 394.67L132.03 394.36L132.53 393.64L133.03 393.21L133.53 392.05L134.03 390.34L134.53 389.90L135.03 387.43L135.53 385.13L136.03 383.14L136.53 380.25L137.03 376.94L137.53 374.54L138.03 370.47L138.53 367.54L139.03 363.78L139.53 360.18L140.03 356.49L140.53 353.25L141.03 350.43L141.53 349.76L142.03 345.87L142.53 345.80L143.03 346.19L143.53 347.80L144.03 349.10L144.53 350.78L145.03 353.57L145.53 358.09L146.03 359.92L146.53 362.24L147.03 368.74L147.53 370.78L148.03 374.62L148.53 378.13L149.03 380.49L149.53 384.20L150.03 386.05L150.53 387.67L151.03 389.89L151.53 391.35L152.03 392.36L152.53 393.39L153.03 393.74L153.53 394.72L154.03 394.86L154.53 395.47L155.03 395.45L155.53 395.70L156.03 396.09L156.53 395.89L157.03 396.05" fill="none" stroke="#000" stroke-width="0.95" stroke-dasharray="1.0 0.8" stroke-linejoin="round"/>
<path d="M138.21 396.90L138.21 396.46L138.71 396.07L139.21 396.55L139.71 396.51L140.21 395.99L140.71 396.22L141.21 395.89L141.71 396.12L142.21 396.36L142.71 396.15L143.21 395.83L143.71 395.86L144.21 396.05L144.71 396.01L145.21 396.02L145.71 396.11L146.21 395.45L146.71 395.91L147.21 396.13L147.71 395.84L148.21 395.30L148.71 395.13L149.21 395.19L149.71 395.13L150.21 394.43L150.71 394.54L151.21 393.71L151.71 391.91L152.21 391.90L152.71 390.60L153.21 389.09L153.71 388.37L154.21 387.73L154.71 384.90L155.21 384.97L155.71 384.68L156.21 382.33L156.71 381.14L157.21 380.93L157.71 378.45L158.21 377.22L158.71 377.87L159.21 374.29L159.71 372.95L160.21 371.69L160.71 371.93L161.21 369.03L161.71 367.61L162.21 366.89L162.71 368.67L163.21 366.70L163.71 369.74L164.21 368.88L164.71 367.33L165.21 370.50L165.71 370.76L166.21 369.13L166.71 371.42L167.21 371.63L167.71 371.28L168.21 370.55L168.71 374.99L169.21 373.56L169.71 374.10L170.21 374.50L170.71 374.53L171.21 374.82L171.71 373.75L172.21 375.54L172.71 374.70L173.21 374.77L173.71 376.50L174.21 375.89L174.71 374.57L175.21 376.48L175.71 377.96L176.21 377.72L176.71 379.06L177.21 378.15L177.71 377.92L178.21 380.12L178.71 379.87L179.21 379.00L179.71 381.39L180.21 381.66L180.71 383.82L181.21 384.60L181.71 385.31L182.21 384.07L182.71 387.19L183.21 388.22L183.71 389.06L184.21 389.48L184.71 389.60L185.21 390.57L185.71 390.14L186.21 391.88L186.71 391.92L187.21 393.19L187.71 393.72L188.21 395.18L188.71 395.24L189.21 395.53L189.71 395.67L190.21 396.24L190.71 395.44L191.21 395.83L191.71 395.88L192.21 395.87L192.71 395.91L193.21 395.79L193.71 396.24L194.21 396.19L194.71 395.94L195.21 396.02L195.71 396.18L196.21 396.26L196.71 396.35L197.21 396.23L197.71 396.02L198.21 396.50L198.71 396.06L199.21 396.22L199.71 396.47L200.21 396.27L200.71 396.67L201.21 396.72L201.71 396.65L202.21 396.51L202.71 396.51L203.21 396.55L203.71 396.46L204.21 396.82L204.71 396.41L205.21 396.72L205.71 396.61L206.21 396.58L206.71 396.70L207.21 396.74L207.71 396.70L208.21 396.56L208.71 396.48L209.21 396.50L209.71 396.72L210.21 396.70L210.71 396.73L211.21 396.55L211.71 396.89L212.21 396.47L212.71 396.70L213.21 396.75L213.71 396.62L214.21 396.55L214.71 396.64L215.21 396.57L215.71 396.68L216.21 396.57L216.71 396.58L217.21 396.73L217.21 396.90Z" fill="#000" stroke="#000" stroke-width="0.4" stroke-linejoin="round"/>
</g>
<g transform="translate(342.40 362.55) skewY(-0.318) translate(-342.40 -362.55)">
<rect x="297.40" y="328.55" width="90.00" height="68.00" fill="none" stroke="#000" stroke-width="0.9"/>
<path d="M297.40 396.55h-1.80M297.40 393.83h-1.10M297.40 391.11h-1.10M297.40 388.39h-1.10M297.40 385.67h-1.10M297.40 382.95h-1.80M297.40 380.23h-1.10M297.40 377.51h-1.10M297.40 374.79h-1.10M297.40 372.07h-1.10M297.40 369.35h-1.80M297.40 366.63h-1.10M297.40 363.91h-1.10M297.40 361.19h-1.10M297.40 358.47h-1.10M297.40 355.75h-1.80M297.40 353.03h-1.10M297.40 350.31h-1.10M297.40 347.59h-1.10M297.40 344.87h-1.10M297.40 342.15h-1.80M297.40 339.43h-1.10M297.40 336.71h-1.10M297.40 333.99h-1.10M297.40 331.27h-1.10M297.40 328.55h-1.80M297.40 396.55v-1.92M304.17 396.55v-1.20M308.14 396.55v-1.20M310.95 396.55v-1.20M313.13 396.55v-1.20M314.91 396.55v-1.20M316.41 396.55v-1.20M317.72 396.55v-1.20M318.87 396.55v-1.20M319.90 396.55v-1.92M326.67 396.55v-1.20M330.64 396.55v-1.20M333.45 396.55v-1.20M335.63 396.55v-1.20M337.41 396.55v-1.20M338.91 396.55v-1.20M340.22 396.55v-1.20M341.37 396.55v-1.20M342.40 396.55v-1.92M349.17 396.55v-1.20M353.14 396.55v-1.20M355.95 396.55v-1.20M358.13 396.55v-1.20M359.91 396.55v-1.20M361.41 396.55v-1.20M362.72 396.55v-1.20M363.87 396.55v-1.20M364.90 396.55v-1.92M371.67 396.55v-1.20M375.64 396.55v-1.20M378.45 396.55v-1.20M380.63 396.55v-1.20M382.41 396.55v-1.20M383.91 396.55v-1.20M385.22 396.55v-1.20M386.37 396.55v-1.20" stroke="#000" stroke-width="0.6" fill="none"/>
<text font-size="5.2" font-weight="bold" stroke="#000" stroke-width="0.22" text-anchor="middle" transform="translate(293.50 396.85) rotate(-90) scale(1.12 1)">0</text>
<text font-size="5.2" font-weight="bold" stroke="#000" stroke-width="0.22" text-anchor="middle" transform="translate(293.50 383.25) rotate(-90) scale(1.12 1)">80</text>
<text font-size="5.2" font-weight="bold" stroke="#000" stroke-width="0.22" text-anchor="middle" transform="translate(293.50 369.65) rotate(-90) scale(1.12 1)">160</text>
<text font-size="5.2" font-weight="bold" stroke="#000" stroke-width="0.22" text-anchor="middle" transform="translate(293.50 356.05) rotate(-90) scale(1.12 1)">240</text>
<text font-size="5.2" font-weight="bold" stroke="#000" stroke-width="0.22" text-anchor="middle" transform="translate(293.50 342.45) rotate(-90) scale(1.12 1)">320</text>
<text font-size="5.2" font-weight="bold" stroke="#000" stroke-width="0.22" text-anchor="middle" transform="translate(293.50 328.85) rotate(-90) scale(1.12 1)">400</text>
<text font-size="6.0" font-weight="bold" stroke="#000" stroke-width="0.22" transform="translate(293.30 405.55) scale(0.84 1)">10<tspan font-size="5.52" dy="-2.82">0</tspan></text>
<text font-size="6.0" font-weight="bold" stroke="#000" stroke-width="0.22" transform="translate(315.80 405.55) scale(0.84 1)">10<tspan font-size="5.52" dy="-2.82">1</tspan></text>
<text font-size="6.0" font-weight="bold" stroke="#000" stroke-width="0.22" transform="translate(338.30 405.55) scale(0.84 1)">10<tspan font-size="5.52" dy="-2.82">2</tspan></text>
<text font-size="6.0" font-weight="bold" stroke="#000" stroke-width="0.22" transform="translate(360.80 405.55) scale(0.84 1)">10<tspan font-size="5.52" dy="-2.82">3</tspan></text>
<text font-size="6.0" font-weight="bold" stroke="#000" stroke-width="0.22" transform="translate(383.30 405.55) scale(0.84 1)">10<tspan font-size="5.52" dy="-2.82">4</tspan></text>
<path d="M297.85 394.32L298.35 394.07L298.85 393.51L299.35 392.98L299.85 391.93L300.35 390.52L300.85 389.67L301.35 387.40L301.85 385.47L302.35 383.15L302.85 381.49L303.35 377.63L303.85 373.97L304.35 371.14L304.85 366.94L305.35 364.56L305.85 358.84L306.35 355.92L306.85 351.32L307.35 350.00L307.85 345.38L308.35 343.83L308.85 341.44L309.35 341.86L309.85 341.47L310.35 339.86L310.85 343.51L311.35 345.38L311.85 347.62L312.35 351.19L312.85 353.12L313.35 356.51L313.85 361.90L314.35 366.34L314.85 368.52L315.35 372.23L315.85 375.82L316.35 378.84L316.85 382.48L317.35 384.69L317.85 387.22L318.35 389.02L318.85 389.88L319.35 391.56L319.85 391.94L320.35 393.22L320.85 393.98L321.35 394.24L321.85 394.48L322.35 394.95L322.85 395.36L323.35 395.32L323.85 395.32L324.35 395.60" fill="none" stroke="#000" stroke-width="0.95" stroke-dasharray="1.0 0.8" stroke-linejoin="round"/>
<path d="M304.15 396.55L304.15 396.16L304.65 395.81L305.15 395.95L305.65 396.16L306.15 395.99L306.65 396.04L307.15 395.80L307.65 395.81L308.15 395.55L308.65 395.61L309.15 396.09L309.65 395.62L310.15 395.47L310.65 395.54L311.15 395.37L311.65 395.72L312.15 395.79L312.65 395.29L313.15 395.77L313.65 396.02L314.15 395.17L314.65 395.59L315.15 395.45L315.65 395.71L316.15 395.66L316.65 395.58L317.15 395.32L317.65 395.06L318.15 395.81L318.65 394.86L319.15 395.40L319.65 395.33L320.15 394.74L320.65 394.82L321.15 395.06L321.65 393.41L322.15 393.98L322.65 392.88L323.15 392.15L323.65 390.69L324.15 390.97L324.65 389.24L325.15 389.49L325.65 387.19L326.15 387.51L326.65 386.06L327.15 382.89L327.65 382.91L328.15 381.77L328.65 378.33L329.15 378.83L329.65 378.71L330.15 375.65L330.65 376.42L331.15 372.32L331.65 370.76L332.15 371.52L332.65 370.22L333.15 367.94L333.65 367.06L334.15 367.46L334.65 364.53L335.15 367.51L335.65 364.75L336.15 364.26L336.65 363.75L337.15 362.72L337.65 364.82L338.15 362.25L338.65 363.51L339.15 364.42L339.65 365.68L340.15 365.66L340.65 363.81L341.15 366.14L341.65 365.35L342.15 364.79L342.65 365.82L343.15 366.28L343.65 369.96L344.15 372.20L344.65 370.84L345.15 373.01L345.65 373.41L346.15 376.06L346.65 376.18L347.15 378.03L347.65 379.68L348.15 381.41L348.65 383.02L349.15 384.64L349.65 386.05L350.15 386.81L350.65 389.14L351.15 388.86L351.65 391.12L352.15 391.58L352.65 393.07L353.15 393.90L353.65 393.69L354.15 394.97L354.65 395.54L355.15 395.50L355.65 395.43L356.15 394.80L356.65 395.36L357.15 395.21L357.65 395.75L358.15 395.44L358.65 395.40L359.15 395.17L359.65 395.81L360.15 395.54L360.65 395.65L361.15 395.98L361.65 395.80L362.15 395.89L362.65 396.34L363.15 395.79L363.65 395.84L364.15 396.06L364.65 396.25L365.15 395.76L365.65 396.00L366.15 395.88L366.65 395.82L367.15 396.16L367.65 395.94L368.15 396.13L368.65 396.11L369.15 396.12L369.65 396.11L370.15 395.94L370.65 396.11L371.15 396.16L371.65 396.19L372.15 396.10L372.65 396.30L373.15 396.24L373.65 396.18L374.15 396.26L374.65 396.20L375.15 396.28L375.65 395.91L376.15 396.02L376.65 396.15L377.15 396.23L377.65 395.93L378.15 396.20L378.65 396.26L379.15 396.21L379.65 396.22L380.15 396.09L380.65 396.28L381.15 396.02L381.65 396.40L382.15 396.21L382.65 396.43L383.15 396.10L383.65 396.36L384.15 396.34L384.65 396.23L385.15 396.21L385.65 396.48L386.15 396.40L386.65 396.51L387.15 396.36L387.15 396.55Z" fill="#000" stroke="#000" stroke-width="0.4" stroke-linejoin="round"/>
</g>
<g transform="translate(173.00 455.05) skewY(-0.252) translate(-173.00 -455.05)">
<rect x="127.50" y="420.70" width="91.00" height="68.70" fill="none" stroke="#000" stroke-width="0.9"/>
<path d="M127.50 489.40h-1.80M127.50 486.65h-1.10M127.50 483.90h-1.10M127.50 481.16h-1.10M127.50 478.41h-1.10M127.50 475.66h-1.80M127.50 472.91h-1.10M127.50 470.16h-1.10M127.50 467.42h-1.10M127.50 464.67h-1.10M127.50 461.92h-1.80M127.50 459.17h-1.10M127.50 456.42h-1.10M127.50 453.68h-1.10M127.50 450.93h-1.10M127.50 448.18h-1.80M127.50 445.43h-1.10M127.50 442.68h-1.10M127.50 439.94h-1.10M127.50 437.19h-1.10M127.50 434.44h-1.80M127.50 431.69h-1.10M127.50 428.94h-1.10M127.50 426.20h-1.10M127.50 423.45h-1.10M127.50 420.70h-1.80M127.50 489.40v-1.92M134.35 489.40v-1.20M138.35 489.40v-1.20M141.20 489.40v-1.20M143.40 489.40v-1.20M145.20 489.40v-1.20M146.73 489.40v-1.20M148.05 489.40v-1.20M149.21 489.40v-1.20M150.25 489.40v-1.92M157.10 489.40v-1.20M161.10 489.40v-1.20M163.95 489.40v-1.20M166.15 489.40v-1.20M167.95 489.40v-1.20M169.48 489.40v-1.20M170.80 489.40v-1.20M171.96 489.40v-1.20M173.00 489.40v-1.92M179.85 489.40v-1.20M183.85 489.40v-1.20M186.70 489.40v-1.20M188.90 489.40v-1.20M190.70 489.40v-1.20M192.23 489.40v-1.20M193.55 489.40v-1.20M194.71 489.40v-1.20M195.75 489.40v-1.92M202.60 489.40v-1.20M206.60 489.40v-1.20M209.45 489.40v-1.20M211.65 489.40v-1.20M213.45 489.40v-1.20M214.98 489.40v-1.20M216.30 489.40v-1.20M217.46 489.40v-1.20" stroke="#000" stroke-width="0.6" fill="none"/>
<text font-size="5.2" font-weight="bold" stroke="#000" stroke-width="0.22" text-anchor="middle" transform="translate(123.60 489.70) rotate(-90) scale(1.12 1)">0</text>
<text font-size="5.2" font-weight="bold" stroke="#000" stroke-width="0.22" text-anchor="middle" transform="translate(123.60 475.96) rotate(-90) scale(1.12 1)">80</text>
<text font-size="5.2" font-weight="bold" stroke="#000" stroke-width="0.22" text-anchor="middle" transform="translate(123.60 462.22) rotate(-90) scale(1.12 1)">160</text>
<text font-size="5.2" font-weight="bold" stroke="#000" stroke-width="0.22" text-anchor="middle" transform="translate(123.60 448.48) rotate(-90) scale(1.12 1)">240</text>
<text font-size="5.2" font-weight="bold" stroke="#000" stroke-width="0.22" text-anchor="middle" transform="translate(123.60 434.74) rotate(-90) scale(1.12 1)">320</text>
<text font-size="5.2" font-weight="bold" stroke="#000" stroke-width="0.22" text-anchor="middle" transform="translate(123.60 421.00) rotate(-90) scale(1.12 1)">400</text>
<text font-size="6.0" font-weight="bold" stroke="#000" stroke-width="0.22" transform="translate(123.40 498.40) scale(0.84 1)">10<tspan font-size="5.52" dy="-2.82">0</tspan></text>
<text font-size="6.0" font-weight="bold" stroke="#000" stroke-width="0.22" transform="translate(146.15 498.40) scale(0.84 1)">10<tspan font-size="5.52" dy="-2.82">1</tspan></text>
<text font-size="6.0" font-weight="bold" stroke="#000" stroke-width="0.22" transform="translate(168.90 498.40) scale(0.84 1)">10<tspan font-size="5.52" dy="-2.82">2</tspan></text>
<text font-size="6.0" font-weight="bold" stroke="#000" stroke-width="0.22" transform="translate(191.65 498.40) scale(0.84 1)">10<tspan font-size="5.52" dy="-2.82">3</tspan></text>
<text font-size="6.0" font-weight="bold" stroke="#000" stroke-width="0.22" transform="translate(214.40 498.40) scale(0.84 1)">10<tspan font-size="5.52" dy="-2.82">4</tspan></text>
<path d="M129.78 488.43L130.28 488.40L130.78 488.35L131.28 488.19L131.78 488.06L132.28 487.65L132.78 487.16L133.28 487.25L133.78 486.36L134.28 485.67L134.78 484.51L135.28 483.65L135.78 481.98L136.28 480.50L136.78 477.84L137.28 475.63L137.78 473.00L138.28 469.72L138.78 466.70L139.28 463.90L139.78 459.11L140.28 455.62L140.78 452.32L141.28 448.21L141.78 445.00L142.28 444.02L142.78 441.78L143.28 438.70L143.78 438.11L144.28 439.74L144.78 440.83L145.28 441.90L145.78 443.89L146.28 447.27L146.78 449.25L147.28 453.46L147.78 456.97L148.28 459.39L148.78 463.88L149.28 467.04L149.78 470.00L150.28 472.95L150.78 476.11L151.28 478.35L151.78 480.66L152.28 481.65L152.78 483.42L153.28 485.00L153.78 485.69L154.28 486.30L154.78 486.92L155.28 487.16L155.78 487.57L156.28 488.06L156.78 488.17L157.28 488.42L157.78 488.34L158.28 488.41L158.78 488.20L159.28 488.48" fill="none" stroke="#000" stroke-width="0.95" stroke-dasharray="1.0 0.8" stroke-linejoin="round"/>
<path d="M132.05 489.40L132.05 489.32L132.55 489.05L133.05 488.86L133.55 489.04L134.05 488.89L134.55 488.71L135.05 488.47L135.55 488.50L136.05 488.60L136.55 488.08L137.05 488.35L137.55 488.26L138.05 488.42L138.55 488.12L139.05 487.51L139.55 488.08L140.05 487.33L140.55 486.78L141.05 486.92L141.55 486.39L142.05 486.71L142.55 485.38L143.05 485.28L143.55 485.55L144.05 486.43L144.55 486.04L145.05 485.06L145.55 484.73L146.05 485.45L146.55 485.02L147.05 485.94L147.55 485.76L148.05 485.70L148.55 485.52L149.05 486.48L149.55 485.34L150.05 485.18L150.55 486.37L151.05 486.49L151.55 485.72L152.05 486.17L152.55 486.90L153.05 485.23L153.55 485.33L154.05 485.37L154.55 483.65L155.05 484.33L155.55 484.46L156.05 483.47L156.55 483.51L157.05 482.49L157.55 480.62L158.05 480.07L158.55 478.56L159.05 475.11L159.55 474.20L160.05 472.62L160.55 471.32L161.05 469.85L161.55 467.29L162.05 467.54L162.55 463.93L163.05 466.01L163.55 463.86L164.05 464.02L164.55 461.61L165.05 459.66L165.55 457.89L166.05 460.52L166.55 459.67L167.05 460.49L167.55 461.48L168.05 462.56L168.55 461.39L169.05 464.21L169.55 462.30L170.05 462.93L170.55 464.32L171.05 465.32L171.55 466.36L172.05 462.99L172.55 467.54L173.05 464.73L173.55 466.54L174.05 468.32L174.55 469.88L175.05 468.06L175.55 467.98L176.05 471.54L176.55 471.44L177.05 470.55L177.55 471.78L178.05 470.49L178.55 473.46L179.05 472.62L179.55 474.68L180.05 471.65L180.55 474.77L181.05 476.59L181.55 475.08L182.05 475.65L182.55 474.42L183.05 477.16L183.55 477.60L184.05 477.84L184.55 477.78L185.05 479.78L185.55 479.61L186.05 480.62L186.55 481.77L187.05 482.05L187.55 482.58L188.05 483.66L188.55 482.85L189.05 484.87L189.55 483.92L190.05 484.52L190.55 485.47L191.05 486.13L191.55 486.18L192.05 486.13L192.55 486.23L193.05 486.61L193.55 486.52L194.05 487.30L194.55 487.19L195.05 488.00L195.55 487.39L196.05 487.77L196.55 488.12L197.05 487.85L197.55 488.12L198.05 489.11L198.55 488.49L199.05 488.88L199.55 488.34L200.05 488.04L200.55 488.72L201.05 488.60L201.55 488.68L202.05 488.57L202.55 488.52L203.05 488.39L203.55 488.89L204.05 488.36L204.55 488.90L205.05 488.66L205.55 488.49L206.05 488.60L206.55 488.94L207.05 488.91L207.55 488.87L208.05 488.80L208.55 488.59L209.05 489.06L209.55 488.74L210.05 488.73L210.55 488.75L211.05 488.78L211.55 488.61L212.05 488.81L212.55 488.76L213.05 488.82L213.55 488.63L214.05 489.26L214.55 488.74L215.05 489.01L215.55 489.03L216.05 489.15L216.55 489.30L217.05 489.08L217.55 489.13L218.05 488.97L218.05 489.40Z" fill="#000" stroke="#000" stroke-width="0.4" stroke-linejoin="round"/>
</g>
<g transform="translate(342.70 453.98) skewY(-0.349) translate(-342.70 -453.98)">
<rect x="297.50" y="419.85" width="90.40" height="68.25" fill="none" stroke="#000" stroke-width="0.9"/>
<path d="M297.50 488.10h-1.80M297.50 485.37h-1.10M297.50 482.64h-1.10M297.50 479.91h-1.10M297.50 477.18h-1.10M297.50 474.45h-1.80M297.50 471.72h-1.10M297.50 468.99h-1.10M297.50 466.26h-1.10M297.50 463.53h-1.10M297.50 460.80h-1.80M297.50 458.07h-1.10M297.50 455.34h-1.10M297.50 452.61h-1.10M297.50 449.88h-1.10M297.50 447.15h-1.80M297.50 444.42h-1.10M297.50 441.69h-1.10M297.50 438.96h-1.10M297.50 436.23h-1.10M297.50 433.50h-1.80M297.50 430.77h-1.10M297.50 428.04h-1.10M297.50 425.31h-1.10M297.50 422.58h-1.10M297.50 419.85h-1.80M297.50 488.10v-1.92M304.30 488.10v-1.20M308.28 488.10v-1.20M311.11 488.10v-1.20M313.30 488.10v-1.20M315.09 488.10v-1.20M316.60 488.10v-1.20M317.91 488.10v-1.20M319.07 488.10v-1.20M320.10 488.10v-1.92M326.90 488.10v-1.20M330.88 488.10v-1.20M333.71 488.10v-1.20M335.90 488.10v-1.20M337.69 488.10v-1.20M339.20 488.10v-1.20M340.51 488.10v-1.20M341.67 488.10v-1.20M342.70 488.10v-1.92M349.50 488.10v-1.20M353.48 488.10v-1.20M356.31 488.10v-1.20M358.50 488.10v-1.20M360.29 488.10v-1.20M361.80 488.10v-1.20M363.11 488.10v-1.20M364.27 488.10v-1.20M365.30 488.10v-1.92M372.10 488.10v-1.20M376.08 488.10v-1.20M378.91 488.10v-1.20M381.10 488.10v-1.20M382.89 488.10v-1.20M384.40 488.10v-1.20M385.71 488.10v-1.20M386.87 488.10v-1.20" stroke="#000" stroke-width="0.6" fill="none"/>
<text font-size="5.2" font-weight="bold" stroke="#000" stroke-width="0.22" text-anchor="middle" transform="translate(293.60 488.40) rotate(-90) scale(1.12 1)">0</text>
<text font-size="5.2" font-weight="bold" stroke="#000" stroke-width="0.22" text-anchor="middle" transform="translate(293.60 474.75) rotate(-90) scale(1.12 1)">80</text>
<text font-size="5.2" font-weight="bold" stroke="#000" stroke-width="0.22" text-anchor="middle" transform="translate(293.60 461.10) rotate(-90) scale(1.12 1)">160</text>
<text font-size="5.2" font-weight="bold" stroke="#000" stroke-width="0.22" text-anchor="middle" transform="translate(293.60 447.45) rotate(-90) scale(1.12 1)">240</text>
<text font-size="5.2" font-weight="bold" stroke="#000" stroke-width="0.22" text-anchor="middle" transform="translate(293.60 433.80) rotate(-90) scale(1.12 1)">320</text>
<text font-size="5.2" font-weight="bold" stroke="#000" stroke-width="0.22" text-anchor="middle" transform="translate(293.60 420.15) rotate(-90) scale(1.12 1)">400</text>
<text font-size="6.0" font-weight="bold" stroke="#000" stroke-width="0.22" transform="translate(293.40 497.10) scale(0.84 1)">10<tspan font-size="5.52" dy="-2.82">0</tspan></text>
<text font-size="6.0" font-weight="bold" stroke="#000" stroke-width="0.22" transform="translate(316.00 497.10) scale(0.84 1)">10<tspan font-size="5.52" dy="-2.82">1</tspan></text>
<text font-size="6.0" font-weight="bold" stroke="#000" stroke-width="0.22" transform="translate(338.60 497.10) scale(0.84 1)">10<tspan font-size="5.52" dy="-2.82">2</tspan></text>
<text font-size="6.0" font-weight="bold" stroke="#000" stroke-width="0.22" transform="translate(361.20 497.10) scale(0.84 1)">10<tspan font-size="5.52" dy="-2.82">3</tspan></text>
<text font-size="6.0" font-weight="bold" stroke="#000" stroke-width="0.22" transform="translate(383.80 497.10) scale(0.84 1)">10<tspan font-size="5.52" dy="-2.82">4</tspan></text>
<path d="M299.76 487.11L300.26 486.73L300.76 486.77L301.26 486.71L301.76 486.59L302.26 486.37L302.76 486.10L303.26 485.58L303.76 484.92L304.26 484.22L304.76 483.56L305.26 482.12L305.76 480.85L306.26 478.79L306.76 476.08L307.26 474.02L307.76 471.55L308.26 468.95L308.76 465.33L309.26 461.65L309.76 456.17L310.26 452.74L310.76 447.82L311.26 443.92L311.76 439.23L312.26 434.35L312.76 432.46L313.26 429.30L313.76 427.45L314.26 424.61L314.76 425.51L315.26 425.86L315.76 427.49L316.26 430.00L316.76 431.99L317.26 434.68L317.76 442.08L318.26 445.87L318.76 451.57L319.26 457.50L319.76 461.90L320.26 466.36L320.76 470.57L321.26 473.01L321.76 477.40L322.26 479.08L322.76 481.10L323.26 482.90L323.76 483.94L324.26 484.72L324.76 485.53L325.26 485.98L325.76 486.29L326.26 486.88L326.76 486.61L327.26 486.64L327.76 486.86L328.26 486.90L328.76 487.19L329.26 487.07L329.76 487.15L330.26 487.13" fill="none" stroke="#000" stroke-width="0.95" stroke-dasharray="1.0 0.8" stroke-linejoin="round"/>
<path d="M299.76 488.10L299.76 487.56L300.26 487.80L300.76 487.65L301.26 487.91L301.76 487.54L302.26 487.43L302.76 487.49L303.26 487.32L303.76 486.34L304.26 486.87L304.76 486.41L305.26 485.81L305.76 484.33L306.26 483.23L306.76 483.46L307.26 483.34L307.76 482.40L308.26 480.57L308.76 480.91L309.26 478.15L309.76 476.96L310.26 476.89L310.76 475.38L311.26 474.37L311.76 472.83L312.26 474.58L312.76 472.03L313.26 473.38L313.76 473.83L314.26 473.28L314.76 474.08L315.26 475.46L315.76 476.69L316.26 476.69L316.76 475.13L317.26 475.11L317.76 476.48L318.26 476.20L318.76 477.73L319.26 477.52L319.76 477.37L320.26 478.60L320.76 478.63L321.26 477.78L321.76 478.03L322.26 478.45L322.76 477.01L323.26 477.18L323.76 475.64L324.26 476.05L324.76 475.85L325.26 475.01L325.76 474.82L326.26 474.82L326.76 474.13L327.26 472.59L327.76 472.24L328.26 471.16L328.76 473.66L329.26 471.94L329.76 471.53L330.26 470.50L330.76 470.76L331.26 470.47L331.76 468.77L332.26 469.12L332.76 470.31L333.26 467.37L333.76 467.50L334.26 468.99L334.76 467.21L335.26 468.72L335.76 466.48L336.26 467.89L336.76 468.53L337.26 468.09L337.76 468.64L338.26 467.75L338.76 467.98L339.26 468.34L339.76 469.20L340.26 472.78L340.76 468.90L341.26 471.25L341.76 469.15L342.26 468.41L342.76 469.54L343.26 470.54L343.76 470.71L344.26 471.14L344.76 472.13L345.26 472.81L345.76 473.87L346.26 472.64L346.76 474.54L347.26 474.45L347.76 476.28L348.26 476.78L348.76 477.75L349.26 478.03L349.76 478.56L350.26 479.79L350.76 481.21L351.26 482.05L351.76 481.36L352.26 483.29L352.76 483.97L353.26 483.71L353.76 484.42L354.26 485.08L354.76 485.76L355.26 484.91L355.76 485.83L356.26 485.96L356.76 486.38L357.26 486.94L357.76 487.07L358.26 486.74L358.76 486.91L359.26 487.21L359.76 487.53L360.26 487.66L360.76 487.48L361.26 487.74L361.76 487.27L362.26 487.23L362.76 486.91L363.26 487.31L363.76 487.60L364.26 487.67L364.76 488.10L365.26 487.63L365.76 487.56L366.26 487.35L366.76 487.43L367.26 487.44L367.76 487.52L368.26 487.45L368.76 487.32L369.26 487.78L369.76 487.68L370.26 487.85L370.76 487.34L371.26 487.40L371.76 487.51L372.26 487.84L372.76 487.62L373.26 487.70L373.76 487.66L374.26 487.71L374.76 487.61L375.26 487.76L375.76 487.57L376.26 487.68L376.76 487.77L377.26 487.75L377.76 487.81L378.26 487.63L378.76 487.80L379.26 487.73L379.76 487.84L380.26 487.99L380.76 487.68L381.26 487.95L381.76 487.73L382.26 487.77L382.76 488.05L383.26 487.96L383.76 487.92L384.26 487.96L384.76 488.01L385.26 487.80L385.76 487.92L386.26 487.86L386.76 487.95L387.26 487.88L387.76 488.00L387.76 488.10Z" fill="#000" stroke="#000" stroke-width="0.4" stroke-linejoin="round"/>
</g>
<g transform="translate(105.10 544.65) skewY(-0.547) translate(-105.10 -544.65)">
<rect x="73.70" y="520.50" width="62.80" height="48.30" fill="none" stroke="#000" stroke-width="0.9"/>
<path d="M73.70 568.80h-1.50M73.70 566.87h-0.90M73.70 564.94h-0.90M73.70 563.00h-0.90M73.70 561.07h-0.90M73.70 559.14h-1.50M73.70 557.21h-0.90M73.70 555.28h-0.90M73.70 553.34h-0.90M73.70 551.41h-0.90M73.70 549.48h-1.50M73.70 547.55h-0.90M73.70 545.62h-0.90M73.70 543.68h-0.90M73.70 541.75h-0.90M73.70 539.82h-1.50M73.70 537.89h-0.90M73.70 535.96h-0.90M73.70 534.02h-0.90M73.70 532.09h-0.90M73.70 530.16h-1.50M73.70 528.23h-0.90M73.70 526.30h-0.90M73.70 524.36h-0.90M73.70 522.43h-0.90M73.70 520.50h-1.50M73.70 568.80v-1.60M78.43 568.80v-1.00M81.19 568.80v-1.00M83.15 568.80v-1.00M84.67 568.80v-1.00M85.92 568.80v-1.00M86.97 568.80v-1.00M87.88 568.80v-1.00M88.68 568.80v-1.00M89.40 568.80v-1.60M94.13 568.80v-1.00M96.89 568.80v-1.00M98.85 568.80v-1.00M100.37 568.80v-1.00M101.62 568.80v-1.00M102.67 568.80v-1.00M103.58 568.80v-1.00M104.38 568.80v-1.00M105.10 568.80v-1.60M109.83 568.80v-1.00M112.59 568.80v-1.00M114.55 568.80v-1.00M116.07 568.80v-1.00M117.32 568.80v-1.00M118.37 568.80v-1.00M119.28 568.80v-1.00M120.08 568.80v-1.00M120.80 568.80v-1.60M125.53 568.80v-1.00M128.29 568.80v-1.00M130.25 568.80v-1.00M131.77 568.80v-1.00M133.02 568.80v-1.00M134.07 568.80v-1.00M134.98 568.80v-1.00M135.78 568.80v-1.00" stroke="#000" stroke-width="0.5" fill="none"/>
<text font-size="3.5" font-weight="bold" stroke="#000" stroke-width="0.22" text-anchor="middle" transform="translate(71.20 569.10) rotate(-90) scale(0.95 1)">0</text>
<text font-size="3.5" font-weight="bold" stroke="#000" stroke-width="0.22" text-anchor="middle" transform="translate(71.20 559.44) rotate(-90) scale(0.95 1)">80</text>
<text font-size="3.5" font-weight="bold" stroke="#000" stroke-width="0.22" text-anchor="middle" transform="translate(71.20 549.78) rotate(-90) scale(0.95 1)">160</text>
<text font-size="3.5" font-weight="bold" stroke="#000" stroke-width="0.22" text-anchor="middle" transform="translate(71.20 540.12) rotate(-90) scale(0.95 1)">240</text>
<text font-size="3.5" font-weight="bold" stroke="#000" stroke-width="0.22" text-anchor="middle" transform="translate(71.20 530.46) rotate(-90) scale(0.95 1)">320</text>
<text font-size="3.5" font-weight="bold" stroke="#000" stroke-width="0.22" text-anchor="middle" transform="translate(71.20 520.80) rotate(-90) scale(0.95 1)">400</text>
<text font-size="3.7" font-weight="bold" stroke="#000" stroke-width="0.22" transform="translate(71.10 574.60) scale(0.8 1)">10<tspan font-size="3.40" dy="-1.74">0</tspan></text>
<text font-size="3.7" font-weight="bold" stroke="#000" stroke-width="0.22" transform="translate(86.80 574.60) scale(0.8 1)">10<tspan font-size="3.40" dy="-1.74">1</tspan></text>
<text font-size="3.7" font-weight="bold" stroke="#000" stroke-width="0.22" transform="translate(102.50 574.60) scale(0.8 1)">10<tspan font-size="3.40" dy="-1.74">2</tspan></text>
<text font-size="3.7" font-weight="bold" stroke="#000" stroke-width="0.22" transform="translate(118.20 574.60) scale(0.8 1)">10<tspan font-size="3.40" dy="-1.74">3</tspan></text>
<text font-size="3.7" font-weight="bold" stroke="#000" stroke-width="0.22" transform="translate(133.90 574.60) scale(0.8 1)">10<tspan font-size="3.40" dy="-1.74">4</tspan></text>
<text x="133.40" y="530.50" font-size="9.2" font-weight="bold" text-anchor="end" >D8-1</text>
<path d="M81.55 568.80L81.55 568.76L82.05 568.72L82.55 568.71L83.05 568.69L83.55 568.66L84.05 568.46L84.55 568.29L85.05 568.15L85.55 567.96L86.05 567.36L86.55 566.44L87.05 566.41L87.55 565.45L88.05 564.45L88.55 564.34L89.05 562.00L89.55 560.80L90.05 558.05L90.55 556.97L91.05 555.28L91.55 552.89L92.05 550.60L92.55 549.14L93.05 547.00L93.55 546.45L94.05 544.40L94.55 542.79L95.05 541.44L95.55 542.47L96.05 543.20L96.55 543.20L97.05 544.36L97.55 545.17L98.05 547.11L98.55 549.59L99.05 551.07L99.55 552.90L100.05 554.59L100.55 556.36L101.05 558.48L101.55 560.57L102.05 561.21L102.55 562.93L103.05 563.13L103.55 564.04L104.05 565.31L104.55 565.20L105.05 565.67L105.55 566.28L106.05 566.24L106.55 566.47L107.05 567.32L107.55 567.03L108.05 567.28L108.55 567.39L109.05 567.39L109.55 567.75L110.05 567.80L110.55 567.90L111.05 567.95L111.55 567.91L112.05 568.16L112.55 568.16L113.05 568.00L113.55 568.14L114.05 568.15L114.55 568.47L115.05 568.39L115.55 568.41L116.05 568.40L116.55 568.50L117.05 568.41L117.55 568.54L118.05 568.56L118.55 568.60L119.05 568.58L119.55 568.68L120.05 568.61L120.55 568.67L121.05 568.71L121.55 568.73L122.05 568.72L122.55 568.72L123.05 568.73L123.55 568.76L123.55 568.80Z" fill="#000" stroke="#000" stroke-width="0.4" stroke-linejoin="round"/>
<path d="M74.48 568.07L74.98 568.05L75.48 567.81L75.98 567.66L76.48 567.43L76.98 566.28L77.48 565.27L77.98 563.77L78.48 561.11L78.98 558.01L79.48 552.88L79.98 548.46L80.48 543.90L80.98 537.38L81.48 532.71L81.98 527.26L82.48 526.21L82.98 526.02L83.48 525.29L83.98 527.16L84.48 529.77L84.98 533.98L85.48 536.50L85.98 540.07L86.48 545.83L86.98 548.61L87.48 552.98L87.98 555.37L88.48 558.82L88.98 561.33L89.48 562.94L89.98 564.54L90.48 565.82L90.98 566.44L91.48 567.16L91.98 567.67L92.48 567.58L92.98 567.96" fill="none" stroke="#000" stroke-width="0.85" stroke-dasharray="1.0 0.45" stroke-linejoin="round"/>
</g>
<g transform="translate(181.55 544.65) skewY(-0.515) translate(-181.55 -544.65)">
<rect x="148.20" y="520.50" width="66.70" height="48.30" fill="none" stroke="#000" stroke-width="0.9"/>
<path d="M148.20 568.80h-1.50M148.20 566.87h-0.90M148.20 564.94h-0.90M148.20 563.00h-0.90M148.20 561.07h-0.90M148.20 559.14h-1.50M148.20 557.21h-0.90M148.20 555.28h-0.90M148.20 553.34h-0.90M148.20 551.41h-0.90M148.20 549.48h-1.50M148.20 547.55h-0.90M148.20 545.62h-0.90M148.20 543.68h-0.90M148.20 541.75h-0.90M148.20 539.82h-1.50M148.20 537.89h-0.90M148.20 535.96h-0.90M148.20 534.02h-0.90M148.20 532.09h-0.90M148.20 530.16h-1.50M148.20 528.23h-0.90M148.20 526.30h-0.90M148.20 524.36h-0.90M148.20 522.43h-0.90M148.20 520.50h-1.50M148.20 568.80v-1.60M153.22 568.80v-1.00M156.16 568.80v-1.00M158.24 568.80v-1.00M159.86 568.80v-1.00M161.18 568.80v-1.00M162.29 568.80v-1.00M163.26 568.80v-1.00M164.11 568.80v-1.00M164.88 568.80v-1.60M169.89 568.80v-1.00M172.83 568.80v-1.00M174.91 568.80v-1.00M176.53 568.80v-1.00M177.85 568.80v-1.00M178.97 568.80v-1.00M179.93 568.80v-1.00M180.79 568.80v-1.00M181.55 568.80v-1.60M186.57 568.80v-1.00M189.51 568.80v-1.00M191.59 568.80v-1.00M193.21 568.80v-1.00M194.53 568.80v-1.00M195.64 568.80v-1.00M196.61 568.80v-1.00M197.46 568.80v-1.00M198.22 568.80v-1.60M203.24 568.80v-1.00M206.18 568.80v-1.00M208.26 568.80v-1.00M209.88 568.80v-1.00M211.20 568.80v-1.00M212.32 568.80v-1.00M213.28 568.80v-1.00M214.14 568.80v-1.00" stroke="#000" stroke-width="0.5" fill="none"/>
<text font-size="3.5" font-weight="bold" stroke="#000" stroke-width="0.22" text-anchor="middle" transform="translate(145.70 569.10) rotate(-90) scale(0.95 1)">0</text>
<text font-size="3.5" font-weight="bold" stroke="#000" stroke-width="0.22" text-anchor="middle" transform="translate(145.70 559.44) rotate(-90) scale(0.95 1)">80</text>
<text font-size="3.5" font-weight="bold" stroke="#000" stroke-width="0.22" text-anchor="middle" transform="translate(145.70 549.78) rotate(-90) scale(0.95 1)">160</text>
<text font-size="3.5" font-weight="bold" stroke="#000" stroke-width="0.22" text-anchor="middle" transform="translate(145.70 540.12) rotate(-90) scale(0.95 1)">240</text>
<text font-size="3.5" font-weight="bold" stroke="#000" stroke-width="0.22" text-anchor="middle" transform="translate(145.70 530.46) rotate(-90) scale(0.95 1)">320</text>
<text font-size="3.5" font-weight="bold" stroke="#000" stroke-width="0.22" text-anchor="middle" transform="translate(145.70 520.80) rotate(-90) scale(0.95 1)">400</text>
<text font-size="3.7" font-weight="bold" stroke="#000" stroke-width="0.22" transform="translate(145.60 574.60) scale(0.8 1)">10<tspan font-size="3.40" dy="-1.74">0</tspan></text>
<text font-size="3.7" font-weight="bold" stroke="#000" stroke-width="0.22" transform="translate(162.28 574.60) scale(0.8 1)">10<tspan font-size="3.40" dy="-1.74">1</tspan></text>
<text font-size="3.7" font-weight="bold" stroke="#000" stroke-width="0.22" transform="translate(178.95 574.60) scale(0.8 1)">10<tspan font-size="3.40" dy="-1.74">2</tspan></text>
<text font-size="3.7" font-weight="bold" stroke="#000" stroke-width="0.22" transform="translate(195.62 574.60) scale(0.8 1)">10<tspan font-size="3.40" dy="-1.74">3</tspan></text>
<text font-size="3.7" font-weight="bold" stroke="#000" stroke-width="0.22" transform="translate(212.30 574.60) scale(0.8 1)">10<tspan font-size="3.40" dy="-1.74">4</tspan></text>
<text x="211.80" y="530.50" font-size="9.2" font-weight="bold" text-anchor="end" >D8-2</text>
<path d="M158.20 568.80L158.20 568.77L158.70 568.72L159.20 568.78L159.70 568.74L160.20 568.64L160.70 568.57L161.20 568.43L161.70 568.19L162.20 568.21L162.70 567.87L163.20 567.59L163.70 567.57L164.20 566.93L164.70 566.74L165.20 565.68L165.70 565.19L166.20 564.57L166.70 564.21L167.20 562.75L167.70 562.08L168.20 560.33L168.70 559.51L169.20 558.63L169.70 556.45L170.20 555.28L170.70 554.80L171.20 552.56L171.70 552.39L172.20 551.45L172.70 550.37L173.20 550.36L173.70 549.75L174.20 549.36L174.70 548.20L175.20 548.30L175.70 549.66L176.20 548.60L176.70 550.01L177.20 550.07L177.70 550.15L178.20 551.00L178.70 550.14L179.20 552.10L179.70 553.60L180.20 552.68L180.70 554.38L181.20 554.99L181.70 557.21L182.20 555.65L182.70 556.48L183.20 557.21L183.70 557.84L184.20 558.20L184.70 559.74L185.20 559.95L185.70 561.35L186.20 561.79L186.70 561.82L187.20 562.66L187.70 563.83L188.20 563.73L188.70 564.39L189.20 565.03L189.70 565.06L190.20 565.68L190.70 566.34L191.20 566.52L191.70 566.13L192.20 567.14L192.70 567.01L193.20 567.15L193.70 567.35L194.20 567.85L194.70 567.85L195.20 567.92L195.70 567.95L196.20 568.24L196.70 568.39L197.20 568.23L197.70 568.30L198.20 568.44L198.70 568.57L199.20 568.54L199.70 568.60L200.20 568.59L200.70 568.74L201.20 568.68L201.70 568.72L202.20 568.77L202.70 568.73L203.20 568.75L203.70 568.77L204.20 568.76L204.70 568.80L204.70 568.80Z" fill="#000" stroke="#000" stroke-width="0.4" stroke-linejoin="round"/>
<path d="M149.03 568.16L149.53 568.08L150.03 568.02L150.53 567.83L151.03 567.81L151.53 567.50L152.03 566.75L152.53 565.86L153.03 564.33L153.53 562.86L154.03 560.92L154.53 557.57L155.03 554.54L155.53 550.71L156.03 544.56L156.53 540.85L157.03 536.17L157.53 532.28L158.03 528.53L158.53 527.49L159.03 526.48L159.53 528.66L160.03 531.11L160.53 533.00L161.03 537.17L161.53 542.23L162.03 547.00L162.53 551.44L163.03 555.65L163.53 558.36L164.03 561.33L164.53 563.48L165.03 565.07L165.53 566.09L166.03 566.92L166.53 567.39L167.03 567.88L167.53 567.92L168.03 567.91" fill="none" stroke="#000" stroke-width="0.85" stroke-dasharray="1.0 0.45" stroke-linejoin="round"/>
</g>
<g transform="translate(257.00 545.10) skewY(-0.541) translate(-257.00 -545.10)">
<rect x="225.20" y="520.50" width="63.60" height="49.20" fill="none" stroke="#000" stroke-width="0.9"/>
<path d="M225.20 569.70h-1.50M225.20 567.73h-0.90M225.20 565.76h-0.90M225.20 563.80h-0.90M225.20 561.83h-0.90M225.20 559.86h-1.50M225.20 557.89h-0.90M225.20 555.92h-0.90M225.20 553.96h-0.90M225.20 551.99h-0.90M225.20 550.02h-1.50M225.20 548.05h-0.90M225.20 546.08h-0.90M225.20 544.12h-0.90M225.20 542.15h-0.90M225.20 540.18h-1.50M225.20 538.21h-0.90M225.20 536.24h-0.90M225.20 534.28h-0.90M225.20 532.31h-0.90M225.20 530.34h-1.50M225.20 528.37h-0.90M225.20 526.40h-0.90M225.20 524.44h-0.90M225.20 522.47h-0.90M225.20 520.50h-1.50M225.20 569.70v-1.60M229.99 569.70v-1.00M232.79 569.70v-1.00M234.77 569.70v-1.00M236.31 569.70v-1.00M237.57 569.70v-1.00M238.64 569.70v-1.00M239.56 569.70v-1.00M240.37 569.70v-1.00M241.10 569.70v-1.60M245.89 569.70v-1.00M248.69 569.70v-1.00M250.67 569.70v-1.00M252.21 569.70v-1.00M253.47 569.70v-1.00M254.54 569.70v-1.00M255.46 569.70v-1.00M256.27 569.70v-1.00M257.00 569.70v-1.60M261.79 569.70v-1.00M264.59 569.70v-1.00M266.57 569.70v-1.00M268.11 569.70v-1.00M269.37 569.70v-1.00M270.44 569.70v-1.00M271.36 569.70v-1.00M272.17 569.70v-1.00M272.90 569.70v-1.60M277.69 569.70v-1.00M280.49 569.70v-1.00M282.47 569.70v-1.00M284.01 569.70v-1.00M285.27 569.70v-1.00M286.34 569.70v-1.00M287.26 569.70v-1.00M288.07 569.70v-1.00" stroke="#000" stroke-width="0.5" fill="none"/>
<text font-size="3.5" font-weight="bold" stroke="#000" stroke-width="0.22" text-anchor="middle" transform="translate(222.70 570.00) rotate(-90) scale(0.95 1)">0</text>
<text font-size="3.5" font-weight="bold" stroke="#000" stroke-width="0.22" text-anchor="middle" transform="translate(222.70 560.16) rotate(-90) scale(0.95 1)">80</text>
<text font-size="3.5" font-weight="bold" stroke="#000" stroke-width="0.22" text-anchor="middle" transform="translate(222.70 550.32) rotate(-90) scale(0.95 1)">160</text>
<text font-size="3.5" font-weight="bold" stroke="#000" stroke-width="0.22" text-anchor="middle" transform="translate(222.70 540.48) rotate(-90) scale(0.95 1)">240</text>
<text font-size="3.5" font-weight="bold" stroke="#000" stroke-width="0.22" text-anchor="middle" transform="translate(222.70 530.64) rotate(-90) scale(0.95 1)">320</text>
<text font-size="3.5" font-weight="bold" stroke="#000" stroke-width="0.22" text-anchor="middle" transform="translate(222.70 520.80) rotate(-90) scale(0.95 1)">400</text>
<text font-size="3.7" font-weight="bold" stroke="#000" stroke-width="0.22" transform="translate(222.60 575.50) scale(0.8 1)">10<tspan font-size="3.40" dy="-1.74">0</tspan></text>
<text font-size="3.7" font-weight="bold" stroke="#000" stroke-width="0.22" transform="translate(238.50 575.50) scale(0.8 1)">10<tspan font-size="3.40" dy="-1.74">1</tspan></text>
<text font-size="3.7" font-weight="bold" stroke="#000" stroke-width="0.22" transform="translate(254.40 575.50) scale(0.8 1)">10<tspan font-size="3.40" dy="-1.74">2</tspan></text>
<text font-size="3.7" font-weight="bold" stroke="#000" stroke-width="0.22" transform="translate(270.30 575.50) scale(0.8 1)">10<tspan font-size="3.40" dy="-1.74">3</tspan></text>
<text font-size="3.7" font-weight="bold" stroke="#000" stroke-width="0.22" transform="translate(286.20 575.50) scale(0.8 1)">10<tspan font-size="3.40" dy="-1.74">4</tspan></text>
<text x="285.70" y="530.50" font-size="9.2" font-weight="bold" text-anchor="end" >D8-3</text>
<path d="M237.92 569.70L237.92 569.70L238.42 569.68L238.92 569.63L239.42 569.58L239.92 569.53L240.42 569.60L240.92 569.30L241.42 569.29L241.92 568.98L242.42 568.34L242.92 567.92L243.42 566.87L243.92 565.10L244.42 564.48L244.92 562.87L245.42 561.68L245.92 559.41L246.42 557.27L246.92 554.42L247.42 552.19L247.92 549.37L248.42 546.72L248.92 545.38L249.42 544.27L249.92 543.37L250.42 541.65L250.92 542.09L251.42 541.55L251.92 541.95L252.42 543.63L252.92 543.51L253.42 545.98L253.92 544.00L254.42 545.87L254.92 548.02L255.42 549.86L255.92 549.96L256.42 552.72L256.92 553.22L257.42 553.50L257.92 555.17L258.42 556.72L258.92 557.10L259.42 559.30L259.92 559.71L260.42 561.11L260.92 562.22L261.42 562.55L261.92 563.96L262.42 563.64L262.92 565.23L263.42 565.03L263.92 566.54L264.42 566.55L264.92 567.46L265.42 567.86L265.92 567.86L266.42 568.05L266.92 568.67L267.42 568.47L267.92 568.96L268.42 568.98L268.92 569.08L269.42 569.17L269.92 569.50L270.42 569.26L270.92 569.42L271.42 569.54L271.92 569.61L272.42 569.68L272.92 569.67L273.42 569.61L273.92 569.66L274.42 569.70L274.92 569.68L275.42 569.64L275.92 569.69L275.92 569.70Z" fill="#000" stroke="#000" stroke-width="0.4" stroke-linejoin="round"/>
<path d="M225.99 568.99L226.49 568.73L226.99 568.64L227.49 568.43L227.99 568.13L228.49 567.73L228.99 566.94L229.49 565.81L229.99 564.39L230.49 562.50L230.99 560.26L231.49 557.76L231.99 554.78L232.49 551.97L232.99 549.05L233.49 544.97L233.99 541.97L234.49 539.04L234.99 536.68L235.49 535.79L235.99 535.22L236.49 535.13L236.99 536.36L237.49 538.88L237.99 541.09L238.49 544.61L238.99 548.35L239.49 551.35L239.99 554.00L240.49 557.84L240.99 559.93L241.49 562.13L241.99 563.93L242.49 565.79L242.99 566.40L243.49 567.47L243.99 568.06L244.49 568.44L244.99 568.62L245.49 568.83" fill="none" stroke="#000" stroke-width="0.85" stroke-dasharray="1.0 0.45" stroke-linejoin="round"/>
</g>
<g transform="translate(333.80 545.10) skewY(-0.537) translate(-333.80 -545.10)">
<rect x="301.80" y="520.50" width="64.00" height="49.20" fill="none" stroke="#000" stroke-width="0.9"/>
<path d="M301.80 569.70h-1.50M301.80 567.73h-0.90M301.80 565.76h-0.90M301.80 563.80h-0.90M301.80 561.83h-0.90M301.80 559.86h-1.50M301.80 557.89h-0.90M301.80 555.92h-0.90M301.80 553.96h-0.90M301.80 551.99h-0.90M301.80 550.02h-1.50M301.80 548.05h-0.90M301.80 546.08h-0.90M301.80 544.12h-0.90M301.80 542.15h-0.90M301.80 540.18h-1.50M301.80 538.21h-0.90M301.80 536.24h-0.90M301.80 534.28h-0.90M301.80 532.31h-0.90M301.80 530.34h-1.50M301.80 528.37h-0.90M301.80 526.40h-0.90M301.80 524.44h-0.90M301.80 522.47h-0.90M301.80 520.50h-1.50M301.80 569.70v-1.60M306.62 569.70v-1.00M309.43 569.70v-1.00M311.43 569.70v-1.00M312.98 569.70v-1.00M314.25 569.70v-1.00M315.32 569.70v-1.00M316.25 569.70v-1.00M317.07 569.70v-1.00M317.80 569.70v-1.60M322.62 569.70v-1.00M325.43 569.70v-1.00M327.43 569.70v-1.00M328.98 569.70v-1.00M330.25 569.70v-1.00M331.32 569.70v-1.00M332.25 569.70v-1.00M333.07 569.70v-1.00M333.80 569.70v-1.60M338.62 569.70v-1.00M341.43 569.70v-1.00M343.43 569.70v-1.00M344.98 569.70v-1.00M346.25 569.70v-1.00M347.32 569.70v-1.00M348.25 569.70v-1.00M349.07 569.70v-1.00M349.80 569.70v-1.60M354.62 569.70v-1.00M357.43 569.70v-1.00M359.43 569.70v-1.00M360.98 569.70v-1.00M362.25 569.70v-1.00M363.32 569.70v-1.00M364.25 569.70v-1.00M365.07 569.70v-1.00" stroke="#000" stroke-width="0.5" fill="none"/>
<text font-size="3.5" font-weight="bold" stroke="#000" stroke-width="0.22" text-anchor="middle" transform="translate(299.30 570.00) rotate(-90) scale(0.95 1)">0</text>
<text font-size="3.5" font-weight="bold" stroke="#000" stroke-width="0.22" text-anchor="middle" transform="translate(299.30 560.16) rotate(-90) scale(0.95 1)">80</text>
<text font-size="3.5" font-weight="bold" stroke="#000" stroke-width="0.22" text-anchor="middle" transform="translate(299.30 550.32) rotate(-90) scale(0.95 1)">160</text>
<text font-size="3.5" font-weight="bold" stroke="#000" stroke-width="0.22" text-anchor="middle" transform="translate(299.30 540.48) rotate(-90) scale(0.95 1)">240</text>
<text font-size="3.5" font-weight="bold" stroke="#000" stroke-width="0.22" text-anchor="middle" transform="translate(299.30 530.64) rotate(-90) scale(0.95 1)">320</text>
<text font-size="3.5" font-weight="bold" stroke="#000" stroke-width="0.22" text-anchor="middle" transform="translate(299.30 520.80) rotate(-90) scale(0.95 1)">400</text>
<text font-size="3.7" font-weight="bold" stroke="#000" stroke-width="0.22" transform="translate(299.20 575.50) scale(0.8 1)">10<tspan font-size="3.40" dy="-1.74">0</tspan></text>
<text font-size="3.7" font-weight="bold" stroke="#000" stroke-width="0.22" transform="translate(315.20 575.50) scale(0.8 1)">10<tspan font-size="3.40" dy="-1.74">1</tspan></text>
<text font-size="3.7" font-weight="bold" stroke="#000" stroke-width="0.22" transform="translate(331.20 575.50) scale(0.8 1)">10<tspan font-size="3.40" dy="-1.74">2</tspan></text>
<text font-size="3.7" font-weight="bold" stroke="#000" stroke-width="0.22" transform="translate(347.20 575.50) scale(0.8 1)">10<tspan font-size="3.40" dy="-1.74">3</tspan></text>
<text font-size="3.7" font-weight="bold" stroke="#000" stroke-width="0.22" transform="translate(363.20 575.50) scale(0.8 1)">10<tspan font-size="3.40" dy="-1.74">4</tspan></text>
<text x="362.70" y="530.50" font-size="9.2" font-weight="bold" text-anchor="end" >D8-4</text>
<path d="M314.60 569.70L314.60 569.62L315.10 569.51L315.60 569.58L316.10 569.56L316.60 569.34L317.10 569.25L317.60 569.09L318.10 569.20L318.60 568.74L319.10 568.60L319.60 568.11L320.10 568.37L320.60 567.71L321.10 567.40L321.60 567.26L322.10 566.48L322.60 565.27L323.10 565.08L323.60 564.39L324.10 562.91L324.60 561.91L325.10 560.89L325.60 560.68L326.10 559.26L326.60 557.58L327.10 557.41L327.60 556.41L328.10 554.44L328.60 553.00L329.10 553.84L329.60 554.04L330.10 552.66L330.60 551.87L331.10 550.94L331.60 550.24L332.10 550.75L332.60 551.26L333.10 550.95L333.60 552.11L334.10 552.03L334.60 553.06L335.10 551.68L335.60 553.72L336.10 555.63L336.60 556.65L337.10 557.30L337.60 558.94L338.10 559.43L338.60 560.41L339.10 560.60L339.60 562.12L340.10 563.14L340.60 564.16L341.10 564.83L341.60 565.13L342.10 565.82L342.60 566.00L343.10 567.01L343.60 567.04L344.10 567.63L344.60 568.04L345.10 568.70L345.60 568.80L346.10 568.68L346.60 568.78L347.10 569.09L347.60 569.16L348.10 569.38L348.60 569.45L349.10 569.53L349.60 569.47L350.10 569.55L350.60 569.61L351.10 569.64L351.60 569.63L352.10 569.65L352.60 569.69L353.10 569.64L353.60 569.68L354.10 569.69L354.60 569.67L355.10 569.68L355.60 569.70L356.10 569.69L356.10 569.70Z" fill="#000" stroke="#000" stroke-width="0.4" stroke-linejoin="round"/>
<path d="M302.60 569.11L303.10 569.03L303.60 569.06L304.10 568.57L304.60 568.53L305.10 567.69L305.60 566.99L306.10 565.66L306.60 563.55L307.10 560.74L307.60 557.13L308.10 552.44L308.60 548.08L309.10 542.65L309.60 538.28L310.10 533.13L310.60 530.02L311.10 528.46L311.60 528.08L312.10 529.63L312.60 532.62L313.10 536.82L313.60 542.25L314.10 547.51L314.60 551.87L315.10 557.07L315.60 560.34L316.10 562.68L316.60 565.65L317.10 566.74L317.60 567.53L318.10 568.42L318.60 568.39L319.10 569.06L319.60 568.86L320.10 568.92L320.60 568.99" fill="none" stroke="#000" stroke-width="0.85" stroke-dasharray="1.0 0.45" stroke-linejoin="round"/>
</g>
<g transform="translate(408.30 544.65) skewY(-0.532) translate(-408.30 -544.65)">
<rect x="376.00" y="520.50" width="64.60" height="48.30" fill="none" stroke="#000" stroke-width="0.9"/>
<path d="M376.00 568.80h-1.50M376.00 566.87h-0.90M376.00 564.94h-0.90M376.00 563.00h-0.90M376.00 561.07h-0.90M376.00 559.14h-1.50M376.00 557.21h-0.90M376.00 555.28h-0.90M376.00 553.34h-0.90M376.00 551.41h-0.90M376.00 549.48h-1.50M376.00 547.55h-0.90M376.00 545.62h-0.90M376.00 543.68h-0.90M376.00 541.75h-0.90M376.00 539.82h-1.50M376.00 537.89h-0.90M376.00 535.96h-0.90M376.00 534.02h-0.90M376.00 532.09h-0.90M376.00 530.16h-1.50M376.00 528.23h-0.90M376.00 526.30h-0.90M376.00 524.36h-0.90M376.00 522.43h-0.90M376.00 520.50h-1.50M376.00 568.80v-1.60M380.86 568.80v-1.00M383.71 568.80v-1.00M385.72 568.80v-1.00M387.29 568.80v-1.00M388.57 568.80v-1.00M389.65 568.80v-1.00M390.58 568.80v-1.00M391.41 568.80v-1.00M392.15 568.80v-1.60M397.01 568.80v-1.00M399.86 568.80v-1.00M401.87 568.80v-1.00M403.44 568.80v-1.00M404.72 568.80v-1.00M405.80 568.80v-1.00M406.73 568.80v-1.00M407.56 568.80v-1.00M408.30 568.80v-1.60M413.16 568.80v-1.00M416.01 568.80v-1.00M418.02 568.80v-1.00M419.59 568.80v-1.00M420.87 568.80v-1.00M421.95 568.80v-1.00M422.88 568.80v-1.00M423.71 568.80v-1.00M424.45 568.80v-1.60M429.31 568.80v-1.00M432.16 568.80v-1.00M434.17 568.80v-1.00M435.74 568.80v-1.00M437.02 568.80v-1.00M438.10 568.80v-1.00M439.03 568.80v-1.00M439.86 568.80v-1.00" stroke="#000" stroke-width="0.5" fill="none"/>
<text font-size="3.5" font-weight="bold" stroke="#000" stroke-width="0.22" text-anchor="middle" transform="translate(373.50 569.10) rotate(-90) scale(0.95 1)">0</text>
<text font-size="3.5" font-weight="bold" stroke="#000" stroke-width="0.22" text-anchor="middle" transform="translate(373.50 559.44) rotate(-90) scale(0.95 1)">80</text>
<text font-size="3.5" font-weight="bold" stroke="#000" stroke-width="0.22" text-anchor="middle" transform="translate(373.50 549.78) rotate(-90) scale(0.95 1)">160</text>
<text font-size="3.5" font-weight="bold" stroke="#000" stroke-width="0.22" text-anchor="middle" transform="translate(373.50 540.12) rotate(-90) scale(0.95 1)">240</text>
<text font-size="3.5" font-weight="bold" stroke="#000" stroke-width="0.22" text-anchor="middle" transform="translate(373.50 530.46) rotate(-90) scale(0.95 1)">320</text>
<text font-size="3.5" font-weight="bold" stroke="#000" stroke-width="0.22" text-anchor="middle" transform="translate(373.50 520.80) rotate(-90) scale(0.95 1)">400</text>
<text font-size="3.7" font-weight="bold" stroke="#000" stroke-width="0.22" transform="translate(373.40 574.60) scale(0.8 1)">10<tspan font-size="3.40" dy="-1.74">0</tspan></text>
<text font-size="3.7" font-weight="bold" stroke="#000" stroke-width="0.22" transform="translate(389.55 574.60) scale(0.8 1)">10<tspan font-size="3.40" dy="-1.74">1</tspan></text>
<text font-size="3.7" font-weight="bold" stroke="#000" stroke-width="0.22" transform="translate(405.70 574.60) scale(0.8 1)">10<tspan font-size="3.40" dy="-1.74">2</tspan></text>
<text font-size="3.7" font-weight="bold" stroke="#000" stroke-width="0.22" transform="translate(421.85 574.60) scale(0.8 1)">10<tspan font-size="3.40" dy="-1.74">3</tspan></text>
<text font-size="3.7" font-weight="bold" stroke="#000" stroke-width="0.22" transform="translate(438.00 574.60) scale(0.8 1)">10<tspan font-size="3.40" dy="-1.74">4</tspan></text>
<text x="437.50" y="530.50" font-size="9.2" font-weight="bold" text-anchor="end" >D8-11</text>
<path d="M376.81 568.80L376.81 568.77L377.31 568.72L377.81 568.72L378.31 568.50L378.81 568.49L379.31 568.12L379.81 567.45L380.31 567.15L380.81 565.97L381.31 564.36L381.81 562.97L382.31 559.35L382.81 556.54L383.31 553.91L383.81 548.75L384.31 544.75L384.81 540.10L385.31 535.13L385.81 532.15L386.31 527.73L386.81 527.80L387.31 525.86L387.81 528.03L388.31 529.56L388.81 534.33L389.31 538.44L389.81 543.48L390.31 546.75L390.81 550.94L391.31 554.29L391.81 558.24L392.31 561.53L392.81 563.87L393.31 565.31L393.81 566.60L394.31 567.13L394.81 567.81L395.31 568.39L395.81 568.57L396.31 568.55L396.81 568.70L397.31 568.76L397.81 568.75L398.31 568.80L398.81 568.80L399.31 568.80L399.81 568.80L400.31 568.80L400.81 568.80L401.31 568.80L401.81 568.80L401.81 568.80Z" fill="#000" stroke="#000" stroke-width="0.4" stroke-linejoin="round"/>
<path d="M376.32 568.03L376.82 567.93L377.32 567.68L377.82 567.49L378.32 566.78L378.82 566.22L379.32 564.89L379.82 563.45L380.32 561.70L380.82 558.85L381.32 556.46L381.82 553.18L382.32 549.70L382.82 545.92L383.32 541.38L383.82 537.36L384.32 534.96L384.82 530.72L385.32 528.76L385.82 527.24L386.32 527.29L386.82 529.09L387.32 530.90L387.82 532.04L388.32 536.25L388.82 540.85L389.32 544.06L389.82 548.33L390.32 552.61L390.82 556.09L391.32 558.78L391.82 560.75L392.32 562.84L392.82 564.46L393.32 565.57L393.82 566.41L394.32 567.35L394.82 567.58L395.32 567.91L395.82 568.12L396.32 568.18L396.82 568.23" fill="none" stroke="#000" stroke-width="0.85" stroke-dasharray="1.0 0.45" stroke-linejoin="round"/>
</g>
<text x="53.80" y="735.20" font-size="13.4" font-weight="bold" text-anchor="start" transform="rotate(-90 53.80 735.20)" >Cell number</text>
<text x="190.00" y="795.20" font-size="13.8" font-weight="bold" text-anchor="start" >Log fluorescence intensity</text>
<text x="487.10" y="628.70" font-size="18.2" font-weight="bold" text-anchor="start" >sIg</text>
<g transform="translate(146.20 697.38) skewY(-0.340) translate(-146.20 -697.38)">
<rect x="83.00" y="649.20" width="126.40" height="96.35" fill="none" stroke="#000" stroke-width="1.0"/>
<path d="M83.00 745.55h-2.20M83.00 741.70h-1.30M83.00 737.84h-1.30M83.00 733.99h-1.30M83.00 730.13h-1.30M83.00 726.28h-2.20M83.00 722.43h-1.30M83.00 718.57h-1.30M83.00 714.72h-1.30M83.00 710.86h-1.30M83.00 707.01h-2.20M83.00 703.16h-1.30M83.00 699.30h-1.30M83.00 695.45h-1.30M83.00 691.59h-1.30M83.00 687.74h-2.20M83.00 683.89h-1.30M83.00 680.03h-1.30M83.00 676.18h-1.30M83.00 672.32h-1.30M83.00 668.47h-2.20M83.00 664.62h-1.30M83.00 660.76h-1.30M83.00 656.91h-1.30M83.00 653.05h-1.30M83.00 649.20h-2.20M83.00 745.55v-2.56M92.51 745.55v-1.60M98.08 745.55v-1.60M102.03 745.55v-1.60M105.09 745.55v-1.60M107.59 745.55v-1.60M109.71 745.55v-1.60M111.54 745.55v-1.60M113.15 745.55v-1.60M114.60 745.55v-2.56M124.11 745.55v-1.60M129.68 745.55v-1.60M133.63 745.55v-1.60M136.69 745.55v-1.60M139.19 745.55v-1.60M141.31 745.55v-1.60M143.14 745.55v-1.60M144.75 745.55v-1.60M146.20 745.55v-2.56M155.71 745.55v-1.60M161.28 745.55v-1.60M165.23 745.55v-1.60M168.29 745.55v-1.60M170.79 745.55v-1.60M172.91 745.55v-1.60M174.74 745.55v-1.60M176.35 745.55v-1.60M177.80 745.55v-2.56M187.31 745.55v-1.60M192.88 745.55v-1.60M196.83 745.55v-1.60M199.89 745.55v-1.60M202.39 745.55v-1.60M204.51 745.55v-1.60M206.34 745.55v-1.60M207.95 745.55v-1.60" stroke="#000" stroke-width="0.7" fill="none"/>
<text font-size="7.5" font-weight="bold" stroke="#000" stroke-width="0.26" text-anchor="middle" transform="translate(78.00 745.65) rotate(-90) scale(1.04 1)">0</text>
<text font-size="7.5" font-weight="bold" stroke="#000" stroke-width="0.26" text-anchor="middle" transform="translate(78.00 726.38) rotate(-90) scale(1.04 1)">80</text>
<text font-size="7.5" font-weight="bold" stroke="#000" stroke-width="0.26" text-anchor="middle" transform="translate(78.00 707.11) rotate(-90) scale(1.04 1)">160</text>
<text font-size="7.5" font-weight="bold" stroke="#000" stroke-width="0.26" text-anchor="middle" transform="translate(78.00 687.84) rotate(-90) scale(1.04 1)">240</text>
<text font-size="7.5" font-weight="bold" stroke="#000" stroke-width="0.26" text-anchor="middle" transform="translate(78.00 668.57) rotate(-90) scale(1.04 1)">320</text>
<text font-size="7.5" font-weight="bold" stroke="#000" stroke-width="0.26" text-anchor="middle" transform="translate(78.00 649.30) rotate(-90) scale(1.04 1)">400</text>
<text font-size="8.5" font-weight="bold" stroke="#000" stroke-width="0.30" transform="translate(76.70 756.75) scale(0.84 1)">10<tspan font-size="7.82" dy="-3.99">0</tspan></text>
<text font-size="8.5" font-weight="bold" stroke="#000" stroke-width="0.30" transform="translate(108.30 756.75) scale(0.84 1)">10<tspan font-size="7.82" dy="-3.99">1</tspan></text>
<text font-size="8.5" font-weight="bold" stroke="#000" stroke-width="0.30" transform="translate(139.90 756.75) scale(0.84 1)">10<tspan font-size="7.82" dy="-3.99">2</tspan></text>
<text font-size="8.5" font-weight="bold" stroke="#000" stroke-width="0.30" transform="translate(171.50 756.75) scale(0.84 1)">10<tspan font-size="7.82" dy="-3.99">3</tspan></text>
<text font-size="8.5" font-weight="bold" stroke="#000" stroke-width="0.30" transform="translate(203.10 756.75) scale(0.84 1)">10<tspan font-size="7.82" dy="-3.99">4</tspan></text>
<path d="M83.00 745.55L83.00 737.45L83.50 739.35L84.00 740.21L84.50 740.56L85.00 743.62L85.50 744.18L86.00 743.10L86.50 742.79L87.00 742.69L87.50 743.38L88.00 742.08L88.50 742.85L89.00 742.74L89.50 741.99L90.00 741.18L90.50 740.11L91.00 739.65L91.50 739.63L92.00 738.36L92.50 738.48L93.00 737.03L93.50 738.24L94.00 737.48L94.50 734.12L95.00 735.44L95.50 733.27L96.00 732.05L96.50 731.53L97.00 730.48L97.50 727.03L98.00 731.18L98.50 725.47L99.00 722.36L99.50 724.63L100.00 723.86L100.50 722.03L101.00 719.65L101.50 723.63L102.00 720.99L102.50 720.81L103.00 719.03L103.50 719.12L104.00 717.73L104.50 718.96L105.00 717.62L105.50 718.29L106.00 717.82L106.50 716.81L107.00 717.06L107.50 719.33L108.00 715.23L108.50 718.62L109.00 721.20L109.50 717.66L110.00 721.17L110.50 719.54L111.00 720.62L111.50 720.32L112.00 720.56L112.50 721.85L113.00 720.98L113.50 717.95L114.00 724.78L114.50 721.26L115.00 720.75L115.50 723.11L116.00 723.61L116.50 718.08L117.00 722.04L117.50 718.21L118.00 720.62L118.50 721.34L119.00 720.72L119.50 720.47L120.00 719.62L120.50 720.78L121.00 721.27L121.50 721.31L122.00 719.63L122.50 720.65L123.00 723.64L123.50 723.25L124.00 721.95L124.50 723.58L125.00 723.39L125.50 724.44L126.00 723.57L126.50 722.74L127.00 722.12L127.50 723.86L128.00 721.08L128.50 724.52L129.00 720.02L129.50 723.50L130.00 724.50L130.50 726.20L131.00 729.76L131.50 726.24L132.00 726.04L132.50 723.87L133.00 728.70L133.50 724.44L134.00 727.65L134.50 726.58L135.00 731.23L135.50 727.88L136.00 728.78L136.50 727.68L137.00 728.71L137.50 730.56L138.00 728.12L138.50 728.69L139.00 729.04L139.50 728.73L140.00 728.82L140.50 730.41L141.00 732.26L141.50 732.48L142.00 729.33L142.50 730.31L143.00 731.24L143.50 732.08L144.00 731.71L144.50 731.92L145.00 732.53L145.50 733.11L146.00 729.93L146.50 732.27L147.00 733.33L147.50 734.23L148.00 733.68L148.50 732.14L149.00 732.21L149.50 733.42L150.00 733.22L150.50 733.72L151.00 734.72L151.50 732.16L152.00 733.27L152.50 731.02L153.00 734.58L153.50 733.90L154.00 732.78L154.50 734.02L155.00 735.27L155.50 734.79L156.00 733.69L156.50 733.62L157.00 734.43L157.50 733.71L158.00 734.17L158.50 735.29L159.00 736.01L159.50 736.71L160.00 736.37L160.50 736.47L161.00 737.69L161.50 737.75L162.00 738.77L162.50 739.97L163.00 739.90L163.50 738.78L164.00 739.33L164.50 738.77L165.00 740.22L165.50 739.93L166.00 739.92L166.50 740.46L167.00 741.78L167.50 741.73L168.00 741.71L168.50 742.57L169.00 741.87L169.50 741.75L170.00 742.78L170.50 741.63L171.00 743.02L171.50 743.15L172.00 743.34L172.50 743.69L173.00 743.27L173.50 743.52L174.00 742.86L174.50 743.40L175.00 743.50L175.50 743.90L176.00 744.46L176.50 743.98L177.00 744.35L177.50 743.71L178.00 744.16L178.50 743.60L179.00 744.02L179.50 744.06L180.00 744.34L180.50 744.40L181.00 744.29L181.50 744.23L182.00 744.78L182.50 744.43L183.00 743.80L183.50 744.67L184.00 744.74L184.50 744.90L185.00 745.14L185.50 744.41L186.00 744.76L186.50 744.72L187.00 744.33L187.50 744.19L188.00 745.12L188.50 744.64L189.00 744.78L189.50 744.87L190.00 744.88L190.50 745.02L191.00 744.68L191.50 744.93L192.00 745.00L192.50 744.81L193.00 744.90L193.50 745.00L194.00 745.03L194.50 744.74L195.00 745.01L195.50 745.14L196.00 745.31L196.50 745.21L197.00 745.36L197.50 745.13L198.00 745.10L198.50 745.55L199.00 745.17L199.50 745.05L200.00 745.15L200.50 745.37L201.00 744.96L201.50 745.33L202.00 745.44L202.50 745.42L203.00 745.23L203.50 745.05L204.00 745.03L204.50 745.21L205.00 745.46L205.50 745.37L206.00 745.42L206.50 745.30L207.00 745.55L207.50 745.27L208.00 745.19L208.50 745.32L209.00 745.23L209.00 745.55Z" fill="#000" stroke="#000" stroke-width="0.4" stroke-linejoin="round"/>
<path d="M114.98 682.20V745.55" stroke="#000" stroke-width="1.1"/>
</g>
<g transform="translate(293.65 697.45) skewY(-0.357) translate(-293.65 -697.45)">
<rect x="229.50" y="649.10" width="128.30" height="96.70" fill="none" stroke="#000" stroke-width="1.0"/>
<path d="M229.50 745.80h-2.20M229.50 741.93h-1.30M229.50 738.06h-1.30M229.50 734.20h-1.30M229.50 730.33h-1.30M229.50 726.46h-2.20M229.50 722.59h-1.30M229.50 718.72h-1.30M229.50 714.86h-1.30M229.50 710.99h-1.30M229.50 707.12h-2.20M229.50 703.25h-1.30M229.50 699.38h-1.30M229.50 695.52h-1.30M229.50 691.65h-1.30M229.50 687.78h-2.20M229.50 683.91h-1.30M229.50 680.04h-1.30M229.50 676.18h-1.30M229.50 672.31h-1.30M229.50 668.44h-2.20M229.50 664.57h-1.30M229.50 660.70h-1.30M229.50 656.84h-1.30M229.50 652.97h-1.30M229.50 649.10h-2.20M229.50 745.80v-2.56M239.16 745.80v-1.60M244.80 745.80v-1.60M248.81 745.80v-1.60M251.92 745.80v-1.60M254.46 745.80v-1.60M256.61 745.80v-1.60M258.47 745.80v-1.60M260.11 745.80v-1.60M261.57 745.80v-2.56M271.23 745.80v-1.60M276.88 745.80v-1.60M280.89 745.80v-1.60M283.99 745.80v-1.60M286.53 745.80v-1.60M288.68 745.80v-1.60M290.54 745.80v-1.60M292.18 745.80v-1.60M293.65 745.80v-2.56M303.31 745.80v-1.60M308.95 745.80v-1.60M312.96 745.80v-1.60M316.07 745.80v-1.60M318.61 745.80v-1.60M320.76 745.80v-1.60M322.62 745.80v-1.60M324.26 745.80v-1.60M325.72 745.80v-2.56M335.38 745.80v-1.60M341.03 745.80v-1.60M345.04 745.80v-1.60M348.14 745.80v-1.60M350.68 745.80v-1.60M352.83 745.80v-1.60M354.69 745.80v-1.60M356.33 745.80v-1.60" stroke="#000" stroke-width="0.7" fill="none"/>
<text font-size="7.5" font-weight="bold" stroke="#000" stroke-width="0.26" text-anchor="middle" transform="translate(224.50 745.90) rotate(-90) scale(1.04 1)">0</text>
<text font-size="7.5" font-weight="bold" stroke="#000" stroke-width="0.26" text-anchor="middle" transform="translate(224.50 726.56) rotate(-90) scale(1.04 1)">80</text>
<text font-size="7.5" font-weight="bold" stroke="#000" stroke-width="0.26" text-anchor="middle" transform="translate(224.50 707.22) rotate(-90) scale(1.04 1)">160</text>
<text font-size="7.5" font-weight="bold" stroke="#000" stroke-width="0.26" text-anchor="middle" transform="translate(224.50 687.88) rotate(-90) scale(1.04 1)">240</text>
<text font-size="7.5" font-weight="bold" stroke="#000" stroke-width="0.26" text-anchor="middle" transform="translate(224.50 668.54) rotate(-90) scale(1.04 1)">320</text>
<text font-size="7.5" font-weight="bold" stroke="#000" stroke-width="0.26" text-anchor="middle" transform="translate(224.50 649.20) rotate(-90) scale(1.04 1)">400</text>
<text font-size="8.5" font-weight="bold" stroke="#000" stroke-width="0.30" transform="translate(223.20 757.00) scale(0.84 1)">10<tspan font-size="7.82" dy="-3.99">0</tspan></text>
<text font-size="8.5" font-weight="bold" stroke="#000" stroke-width="0.30" transform="translate(255.27 757.00) scale(0.84 1)">10<tspan font-size="7.82" dy="-3.99">1</tspan></text>
<text font-size="8.5" font-weight="bold" stroke="#000" stroke-width="0.30" transform="translate(287.35 757.00) scale(0.84 1)">10<tspan font-size="7.82" dy="-3.99">2</tspan></text>
<text font-size="8.5" font-weight="bold" stroke="#000" stroke-width="0.30" transform="translate(319.42 757.00) scale(0.84 1)">10<tspan font-size="7.82" dy="-3.99">3</tspan></text>
<text font-size="8.5" font-weight="bold" stroke="#000" stroke-width="0.30" transform="translate(351.50 757.00) scale(0.84 1)">10<tspan font-size="7.82" dy="-3.99">4</tspan></text>
<path d="M229.50 745.80L229.50 745.70L230.00 745.78L230.50 745.63L231.00 745.31L231.50 745.32L232.00 745.56L232.50 745.25L233.00 745.51L233.50 745.15L234.00 745.33L234.50 745.50L235.00 745.23L235.50 745.54L236.00 745.56L236.50 745.66L237.00 745.24L237.50 745.17L238.00 744.94L238.50 744.72L239.00 743.62L239.50 744.01L240.00 743.80L240.50 742.41L241.00 741.89L241.50 742.11L242.00 743.03L242.50 741.94L243.00 740.71L243.50 740.67L244.00 739.03L244.50 740.79L245.00 738.67L245.50 739.27L246.00 737.09L246.50 737.83L247.00 736.32L247.50 737.41L248.00 737.67L248.50 736.85L249.00 735.75L249.50 735.57L250.00 732.48L250.50 731.70L251.00 732.49L251.50 733.77L252.00 732.64L252.50 733.30L253.00 730.81L253.50 732.14L254.00 731.93L254.50 732.97L255.00 734.85L255.50 733.40L256.00 733.81L256.50 732.07L257.00 732.39L257.50 733.42L258.00 732.91L258.50 730.57L259.00 733.46L259.50 733.35L260.00 732.47L260.50 732.96L261.00 732.58L261.50 731.37L262.00 729.87L262.50 733.99L263.00 731.81L263.50 731.65L264.00 731.70L264.50 731.72L265.00 731.80L265.50 730.06L266.00 731.74L266.50 731.22L267.00 730.96L267.50 730.72L268.00 730.95L268.50 729.39L269.00 730.54L269.50 730.17L270.00 730.27L270.50 731.26L271.00 730.77L271.50 730.78L272.00 728.88L272.50 729.78L273.00 729.96L273.50 727.95L274.00 727.27L274.50 730.09L275.00 725.09L275.50 727.08L276.00 727.03L276.50 725.45L277.00 727.19L277.50 728.77L278.00 725.94L278.50 731.09L279.00 730.71L279.50 730.45L280.00 733.55L280.50 733.06L281.00 732.98L281.50 731.05L282.00 734.94L282.50 734.26L283.00 733.74L283.50 734.61L284.00 736.20L284.50 734.76L285.00 735.31L285.50 735.18L286.00 734.62L286.50 734.80L287.00 735.38L287.50 735.44L288.00 736.82L288.50 735.80L289.00 735.39L289.50 735.98L290.00 735.43L290.50 736.33L291.00 733.75L291.50 732.76L292.00 734.94L292.50 733.41L293.00 733.41L293.50 730.96L294.00 731.20L294.50 730.92L295.00 730.59L295.50 729.43L296.00 730.20L296.50 727.26L297.00 728.42L297.50 725.95L298.00 725.76L298.50 723.60L299.00 724.46L299.50 722.15L300.00 724.34L300.50 721.23L301.00 721.78L301.50 720.36L302.00 719.83L302.50 717.71L303.00 721.95L303.50 717.39L304.00 719.84L304.50 714.55L305.00 719.43L305.50 717.11L306.00 717.67L306.50 711.33L307.00 716.48L307.50 714.14L308.00 715.75L308.50 718.45L309.00 716.34L309.50 715.07L310.00 717.02L310.50 715.57L311.00 718.29L311.50 718.26L312.00 719.61L312.50 719.22L313.00 717.60L313.50 720.93L314.00 722.07L314.50 724.17L315.00 725.22L315.50 722.83L316.00 727.42L316.50 727.93L317.00 727.47L317.50 728.44L318.00 725.62L318.50 731.69L319.00 728.37L319.50 728.23L320.00 730.91L320.50 730.59L321.00 729.52L321.50 728.33L322.00 731.82L322.50 732.93L323.00 730.11L323.50 729.85L324.00 732.56L324.50 735.31L325.00 731.80L325.50 734.34L326.00 733.63L326.50 735.55L327.00 736.57L327.50 737.31L328.00 736.21L328.50 736.97L329.00 740.69L329.50 740.31L330.00 738.89L330.50 741.16L331.00 742.46L331.50 742.14L332.00 742.65L332.50 742.97L333.00 743.38L333.50 743.48L334.00 743.75L334.50 743.57L335.00 744.28L335.50 744.25L336.00 744.38L336.50 744.05L337.00 744.56L337.50 744.82L338.00 744.68L338.50 744.74L339.00 744.54L339.50 744.73L340.00 744.35L340.50 744.50L341.00 744.93L341.50 745.06L342.00 744.68L342.50 744.80L343.00 745.00L343.50 745.41L344.00 745.52L344.50 744.90L345.00 744.80L345.50 744.80L346.00 745.40L346.50 744.76L347.00 745.21L347.50 744.97L348.00 744.97L348.50 745.31L349.00 745.27L349.50 745.67L350.00 745.37L350.50 745.61L351.00 745.04L351.50 745.15L352.00 744.95L352.50 745.10L353.00 745.36L353.50 745.13L354.00 745.32L354.50 745.09L355.00 745.18L355.50 745.49L356.00 745.27L356.50 745.27L357.00 745.37L357.50 745.11L357.50 745.80Z" fill="#000" stroke="#000" stroke-width="0.4" stroke-linejoin="round"/>
<path d="M262.54 681.49V745.80" stroke="#000" stroke-width="1.1"/>
</g>
<g transform="translate(445.85 697.30) skewY(-0.135) translate(-445.85 -697.30)">
<rect x="382.10" y="649.35" width="127.50" height="95.90" fill="none" stroke="#000" stroke-width="1.0"/>
<path d="M382.10 745.25h-2.20M382.10 741.41h-1.30M382.10 737.58h-1.30M382.10 733.74h-1.30M382.10 729.91h-1.30M382.10 726.07h-2.20M382.10 722.23h-1.30M382.10 718.40h-1.30M382.10 714.56h-1.30M382.10 710.73h-1.30M382.10 706.89h-2.20M382.10 703.05h-1.30M382.10 699.22h-1.30M382.10 695.38h-1.30M382.10 691.55h-1.30M382.10 687.71h-2.20M382.10 683.87h-1.30M382.10 680.04h-1.30M382.10 676.20h-1.30M382.10 672.37h-1.30M382.10 668.53h-2.20M382.10 664.69h-1.30M382.10 660.86h-1.30M382.10 657.02h-1.30M382.10 653.19h-1.30M382.10 649.35h-2.20M382.10 745.25v-2.56M391.70 745.25v-1.60M397.31 745.25v-1.60M401.29 745.25v-1.60M404.38 745.25v-1.60M406.90 745.25v-1.60M409.04 745.25v-1.60M410.89 745.25v-1.60M412.52 745.25v-1.60M413.98 745.25v-2.56M423.57 745.25v-1.60M429.18 745.25v-1.60M433.17 745.25v-1.60M436.25 745.25v-1.60M438.78 745.25v-1.60M440.91 745.25v-1.60M442.76 745.25v-1.60M444.39 745.25v-1.60M445.85 745.25v-2.56M455.45 745.25v-1.60M461.06 745.25v-1.60M465.04 745.25v-1.60M468.13 745.25v-1.60M470.65 745.25v-1.60M472.79 745.25v-1.60M474.64 745.25v-1.60M476.27 745.25v-1.60M477.73 745.25v-2.56M487.32 745.25v-1.60M492.93 745.25v-1.60M496.92 745.25v-1.60M500.00 745.25v-1.60M502.53 745.25v-1.60M504.66 745.25v-1.60M506.51 745.25v-1.60M508.14 745.25v-1.60" stroke="#000" stroke-width="0.7" fill="none"/>
<text font-size="7.5" font-weight="bold" stroke="#000" stroke-width="0.26" text-anchor="middle" transform="translate(377.10 745.35) rotate(-90) scale(1.04 1)">0</text>
<text font-size="7.5" font-weight="bold" stroke="#000" stroke-width="0.26" text-anchor="middle" transform="translate(377.10 726.17) rotate(-90) scale(1.04 1)">80</text>
<text font-size="7.5" font-weight="bold" stroke="#000" stroke-width="0.26" text-anchor="middle" transform="translate(377.10 706.99) rotate(-90) scale(1.04 1)">160</text>
<text font-size="7.5" font-weight="bold" stroke="#000" stroke-width="0.26" text-anchor="middle" transform="translate(377.10 687.81) rotate(-90) scale(1.04 1)">240</text>
<text font-size="7.5" font-weight="bold" stroke="#000" stroke-width="0.26" text-anchor="middle" transform="translate(377.10 668.63) rotate(-90) scale(1.04 1)">320</text>
<text font-size="7.5" font-weight="bold" stroke="#000" stroke-width="0.26" text-anchor="middle" transform="translate(377.10 649.45) rotate(-90) scale(1.04 1)">400</text>
<text font-size="8.5" font-weight="bold" stroke="#000" stroke-width="0.30" transform="translate(375.80 756.45) scale(0.84 1)">10<tspan font-size="7.82" dy="-3.99">0</tspan></text>
<text font-size="8.5" font-weight="bold" stroke="#000" stroke-width="0.30" transform="translate(407.68 756.45) scale(0.84 1)">10<tspan font-size="7.82" dy="-3.99">1</tspan></text>
<text font-size="8.5" font-weight="bold" stroke="#000" stroke-width="0.30" transform="translate(439.55 756.45) scale(0.84 1)">10<tspan font-size="7.82" dy="-3.99">2</tspan></text>
<text font-size="8.5" font-weight="bold" stroke="#000" stroke-width="0.30" transform="translate(471.43 756.45) scale(0.84 1)">10<tspan font-size="7.82" dy="-3.99">3</tspan></text>
<text font-size="8.5" font-weight="bold" stroke="#000" stroke-width="0.30" transform="translate(503.30 756.45) scale(0.84 1)">10<tspan font-size="7.82" dy="-3.99">4</tspan></text>
<path d="M382.10 745.25L382.10 743.14L382.60 743.93L383.10 743.90L383.60 744.62L384.10 743.77L384.60 743.87L385.10 744.53L385.60 743.53L386.10 743.38L386.60 743.90L387.10 743.73L387.60 743.95L388.10 743.21L388.60 744.14L389.10 743.61L389.60 742.63L390.10 743.41L390.60 743.21L391.10 743.45L391.60 743.87L392.10 743.31L392.60 743.03L393.10 743.59L393.60 742.82L394.10 742.23L394.60 742.17L395.10 743.40L395.60 742.96L396.10 743.18L396.60 741.57L397.10 741.68L397.60 741.49L398.10 742.28L398.60 742.33L399.10 741.44L399.60 741.29L400.10 741.74L400.60 740.93L401.10 740.41L401.60 740.49L402.10 741.17L402.60 741.75L403.10 740.23L403.60 739.73L404.10 739.84L404.60 739.78L405.10 739.79L405.60 738.47L406.10 738.87L406.60 738.51L407.10 739.20L407.60 738.70L408.10 737.81L408.60 738.61L409.10 738.62L409.60 737.58L410.10 735.97L410.60 736.77L411.10 735.62L411.60 737.25L412.10 737.70L412.60 739.04L413.10 738.72L413.60 737.46L414.10 738.78L414.60 738.86L415.10 739.19L415.60 739.96L416.10 740.27L416.60 740.13L417.10 739.83L417.60 740.08L418.10 740.14L418.60 740.47L419.10 741.19L419.60 740.93L420.10 741.47L420.60 740.27L421.10 742.40L421.60 741.22L422.10 739.57L422.60 741.35L423.10 741.84L423.60 741.09L424.10 740.20L424.60 741.12L425.10 740.58L425.60 740.89L426.10 741.17L426.60 738.80L427.10 740.82L427.60 741.19L428.10 741.13L428.60 740.52L429.10 740.46L429.60 740.13L430.10 740.42L430.60 741.35L431.10 739.73L431.60 740.10L432.10 739.85L432.60 740.53L433.10 739.59L433.60 739.48L434.10 738.69L434.60 739.61L435.10 738.06L435.60 737.65L436.10 738.37L436.60 737.51L437.10 737.30L437.60 735.17L438.10 738.11L438.60 735.51L439.10 736.44L439.60 734.74L440.10 732.91L440.60 734.01L441.10 732.61L441.60 733.14L442.10 729.24L442.60 729.79L443.10 728.86L443.60 731.28L444.10 730.38L444.60 726.91L445.10 727.94L445.60 727.36L446.10 725.83L446.60 727.29L447.10 723.59L447.60 723.81L448.10 722.26L448.60 723.14L449.10 720.45L449.60 721.51L450.10 717.99L450.60 716.81L451.10 716.28L451.60 716.05L452.10 714.97L452.60 719.90L453.10 712.83L453.60 713.92L454.10 712.38L454.60 712.21L455.10 713.48L455.60 711.18L456.10 708.26L456.60 706.22L457.10 709.60L457.60 709.60L458.10 704.45L458.60 708.49L459.10 702.26L459.60 706.09L460.10 707.99L460.60 704.53L461.10 703.51L461.60 710.04L462.10 704.56L462.60 708.53L463.10 705.54L463.60 709.70L464.10 712.63L464.60 709.47L465.10 709.57L465.60 708.33L466.10 709.94L466.60 712.70L467.10 715.24L467.60 716.61L468.10 717.10L468.60 718.90L469.10 718.91L469.60 723.56L470.10 720.19L470.60 721.58L471.10 718.70L471.60 722.52L472.10 725.40L472.60 724.97L473.10 728.49L473.60 728.64L474.10 731.20L474.60 727.86L475.10 729.74L475.60 732.61L476.10 732.00L476.60 731.59L477.10 732.85L477.60 733.72L478.10 735.73L478.60 736.21L479.10 736.18L479.60 736.04L480.10 738.17L480.60 738.87L481.10 737.37L481.60 739.50L482.10 738.32L482.60 739.40L483.10 739.37L483.60 739.21L484.10 740.39L484.60 740.72L485.10 742.08L485.60 742.16L486.10 741.54L486.60 741.17L487.10 741.39L487.60 741.02L488.10 742.25L488.60 742.44L489.10 742.15L489.60 742.78L490.10 742.95L490.60 743.54L491.10 742.70L491.60 743.73L492.10 743.09L492.60 743.98L493.10 742.89L493.60 743.83L494.10 743.04L494.60 744.10L495.10 743.62L495.60 742.94L496.10 743.80L496.60 743.45L497.10 743.69L497.60 744.48L498.10 743.39L498.60 743.35L499.10 744.01L499.60 743.33L500.10 743.91L500.60 744.00L501.10 743.60L501.60 743.90L502.10 742.71L502.60 744.28L503.10 743.37L503.60 743.29L504.10 744.48L504.60 744.40L505.10 743.50L505.60 743.93L506.10 743.61L506.60 743.33L507.10 743.93L507.60 744.20L508.10 744.85L508.60 743.73L509.10 744.17L509.60 743.69L509.60 745.25Z" fill="#000" stroke="#000" stroke-width="0.4" stroke-linejoin="round"/>
<path d="M415.57 681.48V745.25" stroke="#000" stroke-width="1.1"/>
</g>
<text x="126.90" y="663.40" font-size="13.7" font-weight="bold" text-anchor="start" >0 day</text>
<text x="274.70" y="662.40" font-size="13.8" font-weight="bold" text-anchor="start" >1 day</text>
<text x="424.40" y="662.00" font-size="13.6" font-weight="bold" text-anchor="start" >4 days</text>
<text x="89.40" y="678.90" font-size="9.2" font-weight="bold" text-anchor="start" >38.5</text>
<text x="235.00" y="679.20" font-size="9.2" font-weight="bold" text-anchor="start" >14.5</text>
<text x="389.60" y="679.20" font-size="9.2" font-weight="bold" text-anchor="start" >7.1</text>
</svg>
</body></html>
